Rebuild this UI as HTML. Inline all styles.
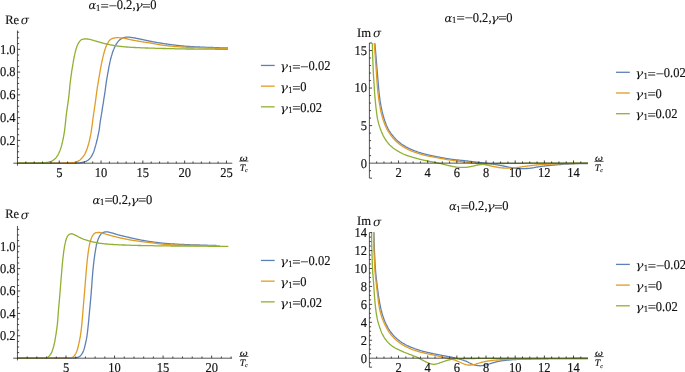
<!DOCTYPE html>
<html><head><meta charset="utf-8"><title>plots</title>
<style>
html,body{margin:0;padding:0;background:#fff;}
body{width:685px;height:372px;overflow:hidden;}
svg{display:block;}
text{text-rendering:geometricPrecision;font-family:"Liberation Serif","DejaVu Serif",serif;fill:#111;stroke:#111;stroke-width:.15px;}
.r{font-family:"Liberation Serif",serif;}
.g{font-family:"DejaVu Serif","Liberation Serif",serif;font-style:italic;stroke:none;}
.gb{stroke:#111;stroke-width:.12px;}
.ti{font-family:"Liberation Serif",serif;font-style:italic;}
.tl{font-size:12.5px;}
.cv path{fill:none;stroke-width:1.3;stroke-linejoin:round;}
.cv path.ax{stroke:#1c1c1c;stroke-width:.75;}
.cv path.tk{stroke:#1c1c1c;stroke-width:.8;}
</style></head>
<body>
<svg width="685" height="372" viewBox="0 0 685 372">
<rect width="685" height="372" fill="#fff"/>
<g class="cv">
<path d="M17.5 163.1 L18.1 163.1 L18.7 163.1 L19.3 163.1 L19.9 163.1 L20.5 163.1 L21.1 163.1 L21.7 163.1 L22.3 163.1 L22.9 163.1 L23.5 163.1 L24.1 163.1 L24.7 163.1 L25.3 163.1 L25.9 163.1 L26.5 163.1 L27.1 163.1 L27.7 163.1 L28.3 163.1 L28.9 163.1 L29.5 163.1 L30.1 163.1 L30.7 163.1 L31.3 163.1 L31.9 163.1 L32.5 163.1 L33.1 163.1 L33.7 163.1 L34.3 163.1 L34.9 163.1 L35.5 163.1 L36.1 163.1 L36.7 163.1 L37.3 163.1 L38.0 163.1 L38.6 163.1 L39.2 163.1 L39.8 163.1 L40.4 163.1 L41.0 163.1 L41.6 163.1 L42.2 163.1 L42.8 163.1 L43.4 163.1 L44.0 163.1 L44.6 163.1 L45.2 163.1 L45.8 163.1 L46.4 163.1 L47.0 163.1 L47.6 163.1 L48.2 163.1 L48.8 163.1 L49.4 163.1 L50.0 163.1 L50.6 163.1 L51.2 163.1 L51.8 163.1 L52.4 163.1 L53.0 163.1 L53.6 163.1 L54.2 163.1 L54.8 163.1 L55.4 163.1 L56.0 163.1 L56.6 163.1 L57.2 163.1 L57.8 163.1 L58.4 163.1 L59.0 163.1 L59.6 163.1 L60.2 163.1 L60.8 163.1 L61.4 163.1 L62.0 163.1 L62.6 163.1 L63.2 163.1 L63.8 163.1 L64.4 163.1 L65.0 163.1 L65.6 163.1 L66.2 163.1 L66.8 163.1 L67.4 163.1 L68.0 163.1 L68.6 163.1 L69.2 163.1 L69.8 163.1 L70.4 163.1 L71.0 163.1 L71.6 163.1 L72.2 163.1 L72.8 163.1 L73.4 163.0 L74.0 163.0 L74.6 163.0 L75.2 163.0 L75.9 163.0 L76.5 163.0 L77.1 162.9 L77.6 162.9 L78.2 162.9 L78.8 162.9 L79.4 162.8 L80.0 162.8 L80.6 162.7 L81.2 162.6 L81.8 162.5 L82.4 162.3 L83.0 162.2 L83.6 162.1 L84.2 161.9 L84.8 161.7 L85.3 161.5 L85.9 161.3 L86.5 161.1 L87.0 160.8 L87.5 160.5 L88.0 160.2 L88.5 159.8 L88.9 159.4 L89.4 159.0 L89.8 158.5 L90.2 158.1 L90.6 157.6 L90.9 157.1 L91.3 156.7 L91.6 156.2 L91.9 155.6 L92.2 155.1 L92.4 154.6 L92.7 154.0 L93.0 153.4 L93.2 152.9 L93.4 152.3 L93.7 151.8 L93.9 151.2 L94.1 150.7 L94.3 150.1 L94.4 149.5 L94.6 148.9 L94.8 148.4 L95.0 147.8 L95.1 147.2 L95.3 146.6 L95.5 146.0 L95.6 145.5 L95.8 144.9 L95.9 144.3 L96.1 143.7 L96.3 143.1 L96.4 142.6 L96.6 142.0 L96.7 141.4 L96.9 140.8 L97.0 140.2 L97.1 139.6 L97.3 139.0 L97.4 138.5 L97.6 137.9 L97.7 137.3 L97.8 136.7 L97.9 136.1 L98.1 135.5 L98.2 134.9 L98.3 134.3 L98.4 133.8 L98.5 133.2 L98.7 132.6 L98.8 132.0 L98.9 131.4 L99.0 130.8 L99.1 130.2 L99.2 129.6 L99.3 129.0 L99.4 128.4 L99.5 127.8 L99.5 127.2 L99.6 126.6 L99.7 126.0 L99.8 125.4 L99.8 124.8 L99.9 124.3 L100.0 123.7 L100.1 123.1 L100.1 122.5 L100.2 121.9 L100.3 121.3 L100.4 120.7 L100.5 120.1 L100.6 119.5 L100.7 118.9 L100.8 118.3 L100.9 117.7 L101.0 117.1 L101.1 116.5 L101.2 115.9 L101.3 115.3 L101.4 114.7 L101.5 114.2 L101.6 113.6 L101.7 113.0 L101.8 112.4 L101.9 111.8 L102.0 111.2 L102.1 110.6 L102.2 110.0 L102.2 109.4 L102.3 108.8 L102.4 108.2 L102.5 107.6 L102.6 107.0 L102.7 106.4 L102.8 105.8 L102.9 105.2 L103.0 104.6 L103.1 104.1 L103.2 103.5 L103.3 102.9 L103.4 102.3 L103.5 101.7 L103.6 101.1 L103.6 100.5 L103.7 99.9 L103.8 99.3 L103.9 98.7 L104.0 98.1 L104.1 97.5 L104.2 96.9 L104.3 96.3 L104.4 95.7 L104.5 95.1 L104.6 94.5 L104.7 94.0 L104.8 93.4 L104.9 92.8 L104.9 92.2 L105.0 91.6 L105.1 91.0 L105.2 90.4 L105.3 89.8 L105.4 89.2 L105.4 88.6 L105.5 88.0 L105.6 87.4 L105.7 86.8 L105.7 86.2 L105.8 85.6 L105.9 85.0 L106.0 84.4 L106.1 83.8 L106.1 83.2 L106.2 82.6 L106.3 82.0 L106.4 81.4 L106.5 80.8 L106.6 80.3 L106.7 79.7 L106.8 79.1 L106.9 78.5 L107.0 77.9 L107.1 77.3 L107.2 76.7 L107.3 76.1 L107.4 75.5 L107.5 74.9 L107.6 74.3 L107.7 73.7 L107.8 73.1 L107.9 72.5 L108.1 72.0 L108.2 71.4 L108.3 70.8 L108.4 70.2 L108.5 69.6 L108.6 69.0 L108.7 68.4 L108.8 67.8 L108.9 67.2 L109.0 66.6 L109.1 66.0 L109.2 65.4 L109.4 64.9 L109.5 64.3 L109.6 63.7 L109.7 63.1 L109.8 62.5 L110.0 61.9 L110.1 61.3 L110.2 60.7 L110.4 60.2 L110.5 59.6 L110.7 59.0 L110.8 58.4 L111.0 57.8 L111.1 57.2 L111.3 56.7 L111.4 56.1 L111.6 55.5 L111.8 54.9 L112.0 54.4 L112.1 53.8 L112.3 53.2 L112.5 52.6 L112.7 52.1 L112.9 51.5 L113.1 50.9 L113.3 50.4 L113.6 49.8 L113.8 49.2 L114.0 48.7 L114.2 48.1 L114.5 47.6 L114.7 47.0 L115.0 46.5 L115.3 46.0 L115.5 45.4 L115.8 44.9 L116.1 44.3 L116.4 43.8 L116.7 43.3 L117.1 42.8 L117.4 42.3 L117.8 41.9 L118.2 41.4 L118.6 40.9 L119.0 40.5 L119.4 40.1 L119.9 39.7 L120.4 39.4 L120.9 39.0 L121.4 38.6 L121.9 38.3 L122.5 38.1 L123.0 37.9 L123.6 37.7 L124.1 37.6 L124.7 37.4 L125.3 37.3 L125.9 37.2 L126.5 37.2 L127.1 37.1 L127.7 37.1 L128.3 37.1 L128.9 37.2 L129.5 37.2 L130.1 37.3 L130.7 37.4 L131.3 37.5 L131.9 37.6 L132.5 37.7 L133.1 37.7 L133.7 37.8 L134.3 37.9 L134.9 38.0 L135.5 38.1 L136.1 38.3 L136.7 38.4 L137.3 38.5 L137.9 38.6 L138.4 38.7 L139.0 38.9 L139.6 39.0 L140.2 39.1 L140.8 39.2 L141.4 39.4 L142.0 39.5 L142.6 39.6 L143.2 39.7 L143.7 39.8 L144.3 40.0 L144.9 40.1 L145.5 40.2 L146.1 40.4 L146.7 40.5 L147.3 40.6 L147.9 40.7 L148.4 40.9 L149.0 41.0 L149.6 41.1 L150.2 41.2 L150.8 41.4 L151.4 41.5 L152.0 41.6 L152.6 41.7 L153.2 41.8 L153.8 41.9 L154.3 42.0 L154.9 42.1 L155.5 42.2 L156.1 42.3 L156.7 42.5 L157.3 42.6 L157.9 42.7 L158.5 42.8 L159.1 42.9 L159.7 42.9 L160.3 43.0 L160.9 43.1 L161.5 43.2 L162.1 43.3 L162.7 43.4 L163.2 43.5 L163.8 43.6 L164.4 43.7 L165.0 43.8 L165.6 43.9 L166.2 44.0 L166.8 44.0 L167.4 44.1 L168.0 44.2 L168.6 44.3 L169.2 44.4 L169.8 44.5 L170.4 44.6 L171.0 44.6 L171.6 44.7 L172.2 44.8 L172.8 44.9 L173.4 44.9 L174.0 45.0 L174.6 45.1 L175.2 45.2 L175.8 45.2 L176.4 45.3 L177.0 45.4 L177.6 45.4 L178.2 45.5 L178.8 45.6 L179.3 45.6 L179.9 45.7 L180.5 45.7 L181.1 45.8 L181.7 45.9 L182.3 45.9 L182.9 46.0 L183.5 46.0 L184.1 46.1 L184.7 46.1 L185.3 46.2 L185.9 46.2 L186.5 46.3 L187.1 46.3 L187.7 46.4 L188.3 46.4 L188.9 46.5 L189.5 46.5 L190.1 46.5 L190.7 46.6 L191.3 46.6 L191.9 46.6 L192.5 46.7 L193.1 46.7 L193.7 46.7 L194.3 46.8 L194.9 46.8 L195.5 46.8 L196.1 46.9 L196.7 46.9 L197.3 46.9 L197.9 46.9 L198.5 47.0 L199.1 47.0 L199.7 47.0 L200.3 47.1 L200.9 47.1 L201.5 47.1 L202.2 47.1 L202.8 47.1 L203.4 47.2 L204.0 47.2 L204.6 47.2 L205.2 47.2 L205.8 47.3 L206.4 47.3 L207.0 47.3 L207.6 47.3 L208.2 47.4 L208.8 47.4 L209.4 47.4 L210.0 47.4 L210.6 47.4 L211.2 47.5 L211.8 47.5 L212.4 47.5 L213.0 47.5 L213.6 47.6 L214.2 47.6 L214.8 47.6 L215.4 47.6 L216.0 47.6 L216.6 47.7 L217.2 47.7 L217.8 47.7 L218.4 47.7 L219.0 47.7 L219.6 47.8 L220.2 47.8 L220.8 47.8 L221.4 47.8 L222.0 47.8 L222.6 47.9 L223.2 47.9 L223.8 47.9 L224.4 47.9 L225.0 47.9 L225.6 47.9 L226.2 48.0 L226.8 48.0 L227.4 48.0 L228.0 48.0" stroke="#5e81b5"/>
<path d="M17.5 163.1 L18.1 163.1 L18.7 163.1 L19.3 163.1 L19.9 163.1 L20.5 163.1 L21.1 163.1 L21.7 163.1 L22.3 163.1 L22.9 163.1 L23.5 163.1 L24.1 163.1 L24.7 163.1 L25.3 163.1 L25.9 163.1 L26.5 163.1 L27.1 163.1 L27.7 163.1 L28.3 163.1 L28.9 163.1 L29.5 163.1 L30.1 163.1 L30.7 163.1 L31.3 163.1 L31.9 163.1 L32.5 163.1 L33.1 163.1 L33.7 163.1 L34.4 163.1 L35.0 163.1 L35.6 163.1 L36.2 163.1 L36.8 163.1 L37.4 163.1 L38.0 163.1 L38.6 163.1 L39.2 163.1 L39.8 163.1 L40.4 163.1 L41.0 163.1 L41.6 163.1 L42.2 163.1 L42.8 163.1 L43.4 163.1 L44.0 163.1 L44.6 163.1 L45.2 163.1 L45.8 163.1 L46.4 163.1 L47.0 163.1 L47.6 163.1 L48.2 163.1 L48.8 163.1 L49.4 163.1 L50.0 163.1 L50.6 163.1 L51.2 163.1 L51.8 163.1 L52.4 163.1 L53.0 163.1 L53.6 163.1 L54.2 163.1 L54.8 163.1 L55.4 163.1 L56.0 163.1 L56.6 163.1 L57.2 163.1 L57.8 163.1 L58.4 163.1 L59.0 163.1 L59.6 163.1 L60.2 163.1 L60.8 163.1 L61.4 163.1 L62.0 163.1 L62.6 163.1 L63.2 163.1 L63.8 163.1 L64.4 163.1 L65.0 163.0 L65.6 163.0 L66.2 163.0 L66.8 163.0 L67.5 163.0 L68.1 163.0 L68.7 162.9 L69.3 162.9 L69.9 162.9 L70.5 162.9 L71.1 162.8 L71.7 162.7 L72.3 162.7 L72.9 162.6 L73.5 162.5 L74.0 162.4 L74.6 162.3 L75.2 162.2 L75.8 162.0 L76.4 161.9 L77.0 161.6 L77.5 161.4 L78.1 161.2 L78.6 160.9 L79.1 160.6 L79.6 160.3 L80.1 159.9 L80.5 159.5 L81.0 159.0 L81.4 158.6 L81.8 158.2 L82.2 157.7 L82.6 157.3 L83.0 156.8 L83.4 156.3 L83.7 155.8 L84.0 155.3 L84.4 154.8 L84.7 154.3 L85.0 153.8 L85.2 153.2 L85.5 152.7 L85.7 152.2 L86.0 151.6 L86.2 151.0 L86.4 150.5 L86.7 149.9 L86.9 149.3 L87.1 148.8 L87.3 148.2 L87.5 147.6 L87.6 147.1 L87.8 146.5 L88.0 145.9 L88.2 145.3 L88.3 144.8 L88.5 144.2 L88.7 143.6 L88.8 143.0 L89.0 142.4 L89.1 141.9 L89.3 141.3 L89.4 140.7 L89.6 140.1 L89.7 139.5 L89.8 138.9 L90.0 138.3 L90.1 137.8 L90.2 137.2 L90.3 136.6 L90.4 136.0 L90.5 135.4 L90.6 134.8 L90.8 134.2 L90.9 133.6 L91.0 133.0 L91.1 132.4 L91.2 131.8 L91.3 131.2 L91.3 130.6 L91.4 130.0 L91.5 129.5 L91.6 128.9 L91.7 128.3 L91.8 127.7 L91.9 127.1 L92.0 126.5 L92.0 125.9 L92.1 125.3 L92.2 124.7 L92.3 124.1 L92.4 123.5 L92.4 122.9 L92.5 122.3 L92.6 121.7 L92.7 121.1 L92.7 120.5 L92.8 119.9 L92.9 119.3 L93.0 118.7 L93.0 118.1 L93.1 117.5 L93.2 116.9 L93.3 116.3 L93.4 115.7 L93.5 115.1 L93.5 114.5 L93.6 113.9 L93.7 113.4 L93.8 112.8 L93.9 112.2 L94.0 111.6 L94.1 111.0 L94.2 110.4 L94.2 109.8 L94.3 109.2 L94.4 108.6 L94.5 108.0 L94.6 107.4 L94.7 106.8 L94.8 106.2 L94.9 105.6 L95.0 105.0 L95.0 104.4 L95.1 103.8 L95.2 103.2 L95.3 102.6 L95.4 102.0 L95.5 101.4 L95.5 100.8 L95.6 100.3 L95.7 99.7 L95.8 99.1 L95.9 98.5 L95.9 97.9 L96.0 97.3 L96.1 96.7 L96.2 96.1 L96.2 95.5 L96.3 94.9 L96.4 94.3 L96.5 93.7 L96.6 93.1 L96.6 92.5 L96.7 91.9 L96.8 91.3 L96.9 90.7 L97.0 90.1 L97.1 89.5 L97.2 88.9 L97.2 88.3 L97.3 87.7 L97.4 87.1 L97.5 86.5 L97.6 85.9 L97.7 85.4 L97.8 84.8 L97.9 84.2 L98.0 83.6 L98.1 83.0 L98.2 82.4 L98.3 81.8 L98.4 81.2 L98.5 80.6 L98.6 80.0 L98.7 79.4 L98.8 78.8 L98.9 78.2 L99.0 77.6 L99.1 77.0 L99.2 76.4 L99.3 75.9 L99.4 75.3 L99.5 74.7 L99.6 74.1 L99.7 73.5 L99.8 72.9 L99.9 72.3 L100.0 71.7 L100.1 71.1 L100.2 70.5 L100.3 69.9 L100.4 69.3 L100.5 68.7 L100.6 68.2 L100.8 67.6 L100.9 67.0 L101.0 66.4 L101.1 65.8 L101.2 65.2 L101.3 64.6 L101.4 64.0 L101.6 63.4 L101.7 62.8 L101.8 62.2 L101.9 61.7 L102.0 61.1 L102.2 60.5 L102.3 59.9 L102.4 59.3 L102.6 58.7 L102.7 58.1 L102.8 57.5 L103.0 57.0 L103.1 56.4 L103.2 55.8 L103.4 55.2 L103.5 54.6 L103.7 54.0 L103.9 53.5 L104.0 52.9 L104.2 52.3 L104.3 51.7 L104.5 51.1 L104.7 50.6 L104.9 50.0 L105.0 49.4 L105.2 48.8 L105.4 48.3 L105.6 47.7 L105.8 47.1 L106.1 46.6 L106.3 46.0 L106.5 45.5 L106.8 44.9 L107.0 44.4 L107.3 43.8 L107.6 43.3 L107.9 42.8 L108.2 42.3 L108.5 41.7 L108.9 41.2 L109.3 40.7 L109.7 40.3 L110.1 39.9 L110.5 39.5 L111.0 39.2 L111.6 38.9 L112.1 38.6 L112.7 38.4 L113.3 38.2 L113.8 38.1 L114.4 38.0 L115.0 37.9 L115.6 37.8 L116.2 37.7 L116.8 37.7 L117.4 37.7 L118.0 37.7 L118.6 37.7 L119.2 37.8 L119.8 37.8 L120.4 37.8 L121.0 37.9 L121.6 37.9 L122.2 38.0 L122.8 38.1 L123.4 38.1 L124.0 38.2 L124.6 38.3 L125.2 38.5 L125.8 38.6 L126.4 38.7 L127.0 38.9 L127.6 39.0 L128.1 39.1 L128.7 39.3 L129.3 39.4 L129.9 39.6 L130.5 39.7 L131.1 39.8 L131.7 39.9 L132.3 40.0 L132.9 40.2 L133.4 40.3 L134.0 40.4 L134.6 40.5 L135.2 40.6 L135.8 40.7 L136.4 40.8 L137.0 40.9 L137.6 41.0 L138.2 41.1 L138.8 41.2 L139.4 41.3 L140.0 41.4 L140.6 41.5 L141.2 41.6 L141.7 41.7 L142.3 41.8 L142.9 41.9 L143.5 42.0 L144.1 42.1 L144.7 42.2 L145.3 42.3 L145.9 42.4 L146.5 42.5 L147.1 42.5 L147.7 42.6 L148.3 42.7 L148.9 42.8 L149.5 42.9 L150.1 43.0 L150.7 43.1 L151.3 43.2 L151.9 43.3 L152.5 43.4 L153.0 43.5 L153.6 43.6 L154.2 43.7 L154.8 43.8 L155.4 43.9 L156.0 44.0 L156.6 44.2 L157.2 44.3 L157.8 44.4 L158.4 44.5 L159.0 44.6 L159.6 44.7 L160.1 44.8 L160.7 44.9 L161.3 45.0 L161.9 45.1 L162.5 45.2 L163.1 45.3 L163.7 45.4 L164.3 45.4 L164.9 45.5 L165.5 45.6 L166.1 45.6 L166.7 45.7 L167.3 45.8 L167.9 45.8 L168.5 45.9 L169.1 46.0 L169.7 46.0 L170.3 46.1 L170.9 46.1 L171.5 46.2 L172.1 46.2 L172.7 46.3 L173.3 46.4 L173.9 46.4 L174.5 46.5 L175.1 46.5 L175.7 46.5 L176.3 46.6 L176.9 46.6 L177.5 46.7 L178.1 46.7 L178.7 46.8 L179.3 46.8 L179.9 46.9 L180.5 46.9 L181.1 46.9 L181.7 47.0 L182.3 47.0 L182.9 47.0 L183.5 47.1 L184.1 47.1 L184.7 47.2 L185.3 47.2 L185.9 47.2 L186.5 47.3 L187.1 47.3 L187.7 47.3 L188.3 47.3 L188.9 47.4 L189.5 47.4 L190.1 47.4 L190.7 47.5 L191.3 47.5 L191.9 47.5 L192.5 47.5 L193.1 47.6 L193.7 47.6 L194.3 47.6 L194.9 47.6 L195.5 47.7 L196.1 47.7 L196.7 47.7 L197.3 47.7 L197.9 47.7 L198.5 47.8 L199.1 47.8 L199.7 47.8 L200.3 47.8 L200.9 47.8 L201.5 47.9 L202.1 47.9 L202.7 47.9 L203.3 47.9 L203.9 47.9 L204.5 48.0 L205.1 48.0 L205.7 48.0 L206.3 48.0 L206.9 48.0 L207.5 48.1 L208.1 48.1 L208.7 48.1 L209.3 48.1 L210.0 48.1 L210.6 48.1 L211.2 48.1 L211.8 48.2 L212.4 48.2 L213.0 48.2 L213.6 48.2 L214.2 48.2 L214.8 48.2 L215.4 48.3 L216.0 48.3 L216.6 48.3 L217.2 48.3 L217.8 48.3 L218.4 48.3 L219.0 48.3 L219.6 48.3 L220.2 48.4 L220.8 48.4 L221.4 48.4 L222.0 48.4 L222.6 48.4 L223.2 48.4 L223.8 48.4 L224.4 48.4 L225.0 48.5 L225.6 48.5 L226.2 48.5 L226.8 48.5 L227.4 48.5 L228.0 48.5" stroke="#e19c24"/>
<path d="M17.5 163.1 L18.1 163.1 L18.7 163.1 L19.3 163.1 L19.9 163.1 L20.5 163.1 L21.1 163.1 L21.7 163.1 L22.3 163.1 L22.9 163.1 L23.5 163.1 L24.1 163.1 L24.7 163.1 L25.3 163.1 L25.9 163.1 L26.5 163.1 L27.1 163.1 L27.7 163.1 L28.3 163.1 L28.9 163.1 L29.5 163.1 L30.1 163.1 L30.7 163.1 L31.3 163.1 L32.0 163.1 L32.6 163.1 L33.2 163.1 L33.8 163.1 L34.4 163.1 L35.0 163.1 L35.6 163.1 L36.2 163.1 L36.8 163.1 L37.4 163.1 L38.0 163.1 L38.6 163.0 L39.2 163.0 L39.8 163.0 L40.4 163.0 L41.0 162.9 L41.6 162.9 L42.2 162.9 L42.8 162.9 L43.4 162.8 L44.0 162.8 L44.6 162.7 L45.2 162.6 L45.8 162.6 L46.4 162.5 L47.0 162.4 L47.6 162.3 L48.2 162.2 L48.8 162.1 L49.4 161.9 L49.9 161.7 L50.5 161.5 L51.1 161.3 L51.6 161.1 L52.1 160.9 L52.7 160.6 L53.2 160.2 L53.7 159.9 L54.2 159.5 L54.7 159.1 L55.1 158.7 L55.5 158.3 L55.9 157.9 L56.3 157.4 L56.6 156.9 L57.0 156.4 L57.3 155.9 L57.7 155.4 L58.0 154.8 L58.2 154.3 L58.5 153.8 L58.8 153.3 L59.0 152.7 L59.3 152.2 L59.5 151.6 L59.8 151.0 L60.0 150.5 L60.2 149.9 L60.4 149.3 L60.6 148.8 L60.8 148.2 L61.0 147.6 L61.1 147.0 L61.3 146.5 L61.5 145.9 L61.6 145.3 L61.8 144.7 L61.9 144.1 L62.1 143.6 L62.2 143.0 L62.4 142.4 L62.5 141.8 L62.6 141.2 L62.8 140.6 L62.9 140.0 L63.0 139.4 L63.1 138.9 L63.3 138.3 L63.4 137.7 L63.5 137.1 L63.6 136.5 L63.7 135.9 L63.8 135.3 L63.9 134.7 L64.0 134.1 L64.1 133.5 L64.2 132.9 L64.3 132.3 L64.4 131.7 L64.5 131.1 L64.6 130.5 L64.6 130.0 L64.7 129.4 L64.8 128.8 L64.9 128.2 L64.9 127.6 L65.0 127.0 L65.1 126.4 L65.1 125.8 L65.2 125.2 L65.3 124.6 L65.3 124.0 L65.4 123.4 L65.5 122.8 L65.5 122.2 L65.6 121.6 L65.6 121.0 L65.7 120.4 L65.8 119.8 L65.8 119.2 L65.9 118.6 L65.9 118.0 L66.0 117.4 L66.1 116.8 L66.1 116.2 L66.2 115.6 L66.3 115.0 L66.4 114.4 L66.4 113.8 L66.5 113.2 L66.6 112.6 L66.7 112.0 L66.7 111.4 L66.8 110.8 L66.9 110.2 L67.0 109.6 L67.1 109.0 L67.2 108.4 L67.3 107.8 L67.3 107.2 L67.4 106.6 L67.5 106.0 L67.6 105.4 L67.7 104.8 L67.8 104.3 L67.9 103.7 L67.9 103.1 L68.0 102.5 L68.1 101.9 L68.2 101.3 L68.3 100.7 L68.4 100.1 L68.4 99.5 L68.5 98.9 L68.6 98.3 L68.7 97.7 L68.8 97.1 L68.8 96.5 L68.9 95.9 L69.0 95.3 L69.0 94.7 L69.1 94.1 L69.2 93.5 L69.2 92.9 L69.3 92.3 L69.3 91.7 L69.4 91.1 L69.4 90.5 L69.5 89.9 L69.6 89.3 L69.6 88.7 L69.7 88.1 L69.7 87.5 L69.8 86.9 L69.8 86.3 L69.9 85.7 L69.9 85.1 L70.0 84.5 L70.1 83.9 L70.1 83.3 L70.2 82.7 L70.3 82.1 L70.4 81.5 L70.4 80.9 L70.5 80.3 L70.6 79.7 L70.7 79.1 L70.7 78.5 L70.8 77.9 L70.9 77.3 L71.0 76.7 L71.1 76.1 L71.1 75.6 L71.2 75.0 L71.3 74.4 L71.4 73.8 L71.5 73.2 L71.6 72.6 L71.6 72.0 L71.7 71.4 L71.8 70.8 L71.9 70.2 L72.0 69.6 L72.1 69.0 L72.2 68.4 L72.3 67.8 L72.4 67.2 L72.5 66.6 L72.6 66.0 L72.7 65.4 L72.8 64.8 L72.9 64.2 L73.0 63.7 L73.1 63.1 L73.2 62.5 L73.3 61.9 L73.4 61.3 L73.5 60.7 L73.6 60.1 L73.7 59.5 L73.8 58.9 L73.9 58.3 L74.0 57.7 L74.1 57.1 L74.3 56.5 L74.4 55.9 L74.5 55.4 L74.6 54.8 L74.8 54.2 L74.9 53.6 L75.0 53.0 L75.2 52.4 L75.3 51.8 L75.5 51.3 L75.6 50.7 L75.8 50.1 L75.9 49.5 L76.1 48.9 L76.3 48.3 L76.5 47.8 L76.7 47.2 L76.9 46.6 L77.1 46.1 L77.3 45.5 L77.6 45.0 L77.8 44.4 L78.1 43.8 L78.4 43.3 L78.7 42.8 L79.0 42.3 L79.3 41.8 L79.7 41.3 L80.1 40.9 L80.6 40.4 L81.0 40.0 L81.5 39.7 L82.1 39.5 L82.6 39.3 L83.2 39.2 L83.8 39.1 L84.4 39.0 L85.0 38.9 L85.6 38.9 L86.2 38.9 L86.8 39.0 L87.4 39.0 L88.0 39.1 L88.6 39.2 L89.2 39.3 L89.8 39.4 L90.4 39.5 L91.0 39.7 L91.6 39.8 L92.1 40.0 L92.7 40.2 L93.3 40.4 L93.9 40.5 L94.4 40.7 L95.0 40.9 L95.6 41.1 L96.2 41.2 L96.8 41.4 L97.3 41.6 L97.9 41.7 L98.5 41.9 L99.1 42.1 L99.7 42.2 L100.2 42.4 L100.8 42.5 L101.4 42.7 L102.0 42.9 L102.6 43.0 L103.1 43.2 L103.7 43.3 L104.3 43.5 L104.9 43.6 L105.5 43.8 L106.1 43.9 L106.7 44.0 L107.2 44.2 L107.8 44.3 L108.4 44.4 L109.0 44.5 L109.6 44.7 L110.2 44.8 L110.8 44.9 L111.4 45.0 L112.0 45.1 L112.6 45.2 L113.1 45.4 L113.7 45.5 L114.3 45.6 L114.9 45.6 L115.5 45.7 L116.1 45.8 L116.7 45.9 L117.3 46.0 L117.9 46.1 L118.5 46.1 L119.1 46.2 L119.7 46.3 L120.3 46.4 L120.9 46.4 L121.5 46.5 L122.1 46.6 L122.7 46.7 L123.3 46.7 L123.9 46.8 L124.5 46.8 L125.1 46.9 L125.7 46.9 L126.3 47.0 L126.9 47.0 L127.5 47.1 L128.1 47.1 L128.7 47.2 L129.3 47.2 L129.9 47.2 L130.5 47.3 L131.1 47.3 L131.7 47.4 L132.3 47.4 L132.9 47.4 L133.5 47.4 L134.1 47.5 L134.7 47.5 L135.3 47.5 L135.9 47.6 L136.5 47.6 L137.1 47.6 L137.7 47.6 L138.3 47.7 L138.9 47.7 L139.5 47.7 L140.1 47.7 L140.7 47.8 L141.3 47.8 L141.9 47.8 L142.5 47.8 L143.1 47.9 L143.7 47.9 L144.3 47.9 L144.9 47.9 L145.5 48.0 L146.1 48.0 L146.7 48.0 L147.3 48.0 L147.9 48.0 L148.5 48.1 L149.1 48.1 L149.7 48.1 L150.3 48.1 L150.9 48.1 L151.5 48.2 L152.1 48.2 L152.7 48.2 L153.4 48.2 L154.0 48.2 L154.6 48.2 L155.2 48.3 L155.8 48.3 L156.4 48.3 L157.0 48.3 L157.6 48.3 L158.2 48.4 L158.8 48.4 L159.4 48.4 L160.0 48.4 L160.6 48.4 L161.2 48.4 L161.8 48.4 L162.4 48.5 L163.0 48.5 L163.6 48.5 L164.2 48.5 L164.8 48.5 L165.4 48.5 L166.0 48.6 L166.6 48.6 L167.2 48.6 L167.8 48.6 L168.4 48.6 L169.0 48.6 L169.6 48.6 L170.2 48.7 L170.8 48.7 L171.4 48.7 L172.0 48.7 L172.6 48.7 L173.2 48.7 L173.8 48.7 L174.4 48.7 L175.0 48.8 L175.6 48.8 L176.2 48.8 L176.8 48.8 L177.4 48.8 L178.0 48.8 L178.6 48.8 L179.2 48.8 L179.8 48.9 L180.4 48.9 L181.0 48.9 L181.6 48.9 L182.2 48.9 L182.8 48.9 L183.4 48.9 L184.0 48.9 L184.7 48.9 L185.3 48.9 L185.9 49.0 L186.5 49.0 L187.1 49.0 L187.7 49.0 L188.3 49.0 L188.9 49.0 L189.5 49.0 L190.1 49.0 L190.7 49.0 L191.3 49.0 L191.9 49.0 L192.5 49.0 L193.1 49.0 L193.7 49.0 L194.3 49.1 L194.9 49.1 L195.5 49.1 L196.1 49.1 L196.7 49.1 L197.3 49.1 L197.9 49.1 L198.5 49.1 L199.1 49.1 L199.7 49.1 L200.3 49.1 L200.9 49.1 L201.5 49.1 L202.1 49.1 L202.7 49.1 L203.3 49.2 L203.9 49.2 L204.5 49.2 L205.1 49.2 L205.7 49.2 L206.3 49.2 L206.9 49.2 L207.5 49.2 L208.1 49.2 L208.7 49.2 L209.3 49.2 L209.9 49.2 L210.5 49.2 L211.1 49.2 L211.7 49.2 L212.3 49.2 L212.9 49.2 L213.5 49.2 L214.2 49.2 L214.8 49.2 L215.4 49.3 L216.0 49.3 L216.6 49.3 L217.2 49.3 L217.8 49.3 L218.4 49.3 L219.0 49.3 L219.6 49.3 L220.2 49.3 L220.8 49.3 L221.4 49.3 L222.0 49.3 L222.6 49.3 L223.2 49.3 L223.8 49.3 L224.4 49.3 L225.0 49.3 L225.6 49.3 L226.2 49.3 L226.8 49.3 L227.4 49.3 L228.0 49.3" stroke="#8fb032"/>
<path class="ax" d="M13.3 163.2H232.3M17.45 165.7V30.5"/>
<path class="tk" d="M59.25 163.2v-2.7M101.05 163.2v-2.7M142.85 163.2v-2.7M184.65 163.2v-2.7M226.45 163.2v-2.7M25.81 163.2v-1.7M34.17 163.2v-1.7M42.53 163.2v-1.7M50.89 163.2v-1.7M67.61 163.2v-1.7M75.97 163.2v-1.7M84.33 163.2v-1.7M92.69 163.2v-1.7M109.41 163.2v-1.7M117.77 163.2v-1.7M126.13 163.2v-1.7M134.49 163.2v-1.7M151.21 163.2v-1.7M159.57 163.2v-1.7M167.93 163.2v-1.7M176.29 163.2v-1.7M193.01 163.2v-1.7M201.37 163.2v-1.7M209.73 163.2v-1.7M218.09 163.2v-1.7M17.45 140.42h2.7M17.45 117.64h2.7M17.45 94.86h2.7M17.45 72.08h2.7M17.45 49.3h2.7M17.45 157.5h1.7M17.45 151.81h1.7M17.45 146.11h1.7M17.45 134.72h1.7M17.45 129.03h1.7M17.45 123.33h1.7M17.45 111.94h1.7M17.45 106.25h1.7M17.45 100.55h1.7M17.45 89.16h1.7M17.45 83.47h1.7M17.45 77.77h1.7M17.45 66.38h1.7M17.45 60.69h1.7M17.45 54.99h1.7M17.45 43.6h1.7M17.45 37.91h1.7M17.45 32.22h1.7"/>
<path d="M374.9 43.2 L374.9 43.8 L375.0 44.4 L375.0 45.0 L375.1 45.6 L375.1 46.2 L375.2 46.8 L375.2 47.4 L375.3 48.0 L375.3 48.6 L375.4 49.2 L375.4 49.8 L375.5 50.4 L375.5 51.0 L375.6 51.6 L375.6 52.2 L375.7 52.8 L375.7 53.4 L375.8 54.0 L375.8 54.6 L375.9 55.2 L375.9 55.8 L376.0 56.4 L376.0 57.0 L376.1 57.6 L376.1 58.2 L376.2 58.8 L376.2 59.4 L376.3 60.0 L376.3 60.6 L376.4 61.2 L376.4 61.8 L376.5 62.4 L376.5 63.0 L376.6 63.6 L376.6 64.2 L376.7 64.8 L376.7 65.4 L376.8 66.0 L376.8 66.6 L376.9 67.2 L376.9 67.8 L377.0 68.4 L377.0 69.0 L377.1 69.6 L377.1 70.2 L377.2 70.8 L377.2 71.4 L377.3 72.0 L377.3 72.6 L377.4 73.2 L377.4 73.8 L377.5 74.4 L377.5 75.0 L377.6 75.6 L377.6 76.2 L377.7 76.8 L377.7 77.4 L377.8 78.0 L377.8 78.6 L377.9 79.2 L377.9 79.8 L378.0 80.4 L378.0 81.0 L378.1 81.6 L378.1 82.2 L378.2 82.8 L378.2 83.4 L378.3 84.0 L378.3 84.6 L378.4 85.2 L378.4 85.8 L378.5 86.4 L378.5 87.0 L378.6 87.6 L378.6 88.2 L378.7 88.8 L378.8 89.4 L378.8 90.0 L378.9 90.6 L378.9 91.2 L379.0 91.8 L379.0 92.4 L379.1 93.0 L379.2 93.6 L379.2 94.2 L379.3 94.8 L379.4 95.4 L379.4 96.0 L379.5 96.6 L379.6 97.2 L379.7 97.8 L379.8 98.4 L379.8 99.0 L379.9 99.6 L380.0 100.2 L380.1 100.8 L380.2 101.4 L380.3 101.9 L380.4 102.5 L380.5 103.1 L380.6 103.7 L380.7 104.3 L380.8 104.9 L380.9 105.5 L381.0 106.1 L381.1 106.7 L381.3 107.3 L381.4 107.9 L381.5 108.5 L381.6 109.1 L381.7 109.6 L381.9 110.2 L382.0 110.8 L382.1 111.4 L382.3 112.0 L382.4 112.6 L382.5 113.2 L382.7 113.7 L382.8 114.3 L383.0 114.9 L383.2 115.5 L383.3 116.1 L383.5 116.7 L383.7 117.2 L383.8 117.8 L384.0 118.4 L384.2 119.0 L384.4 119.5 L384.6 120.1 L384.7 120.7 L384.9 121.2 L385.1 121.8 L385.3 122.4 L385.6 123.0 L385.8 123.5 L386.0 124.1 L386.2 124.7 L386.4 125.2 L386.7 125.8 L386.9 126.3 L387.2 126.9 L387.4 127.4 L387.7 127.9 L387.9 128.5 L388.2 129.0 L388.5 129.5 L388.8 130.0 L389.1 130.6 L389.4 131.1 L389.8 131.6 L390.1 132.1 L390.4 132.6 L390.8 133.1 L391.1 133.6 L391.5 134.1 L391.9 134.6 L392.2 135.0 L392.6 135.5 L393.0 136.0 L393.3 136.4 L393.7 136.9 L394.1 137.4 L394.5 137.8 L394.9 138.3 L395.4 138.7 L395.8 139.1 L396.2 139.6 L396.6 140.0 L397.1 140.4 L397.5 140.8 L397.9 141.2 L398.4 141.6 L398.9 142.0 L399.3 142.4 L399.8 142.7 L400.3 143.1 L400.8 143.5 L401.2 143.8 L401.7 144.2 L402.2 144.5 L402.7 144.9 L403.2 145.2 L403.8 145.5 L404.3 145.8 L404.8 146.1 L405.3 146.4 L405.8 146.7 L406.3 147.0 L406.9 147.3 L407.4 147.6 L407.9 147.9 L408.5 148.1 L409.0 148.4 L409.6 148.7 L410.1 148.9 L410.7 149.2 L411.2 149.4 L411.8 149.6 L412.3 149.9 L412.9 150.1 L413.5 150.3 L414.0 150.5 L414.6 150.8 L415.1 151.0 L415.7 151.2 L416.3 151.4 L416.8 151.6 L417.4 151.8 L418.0 152.0 L418.5 152.2 L419.1 152.4 L419.7 152.6 L420.3 152.7 L420.8 152.9 L421.4 153.1 L422.0 153.3 L422.6 153.4 L423.2 153.6 L423.7 153.8 L424.3 153.9 L424.9 154.1 L425.5 154.2 L426.1 154.4 L426.6 154.5 L427.2 154.6 L427.8 154.8 L428.4 154.9 L429.0 155.1 L429.6 155.2 L430.2 155.3 L430.8 155.4 L431.3 155.6 L431.9 155.7 L432.5 155.8 L433.1 155.9 L433.7 156.1 L434.3 156.2 L434.9 156.3 L435.5 156.4 L436.1 156.5 L436.7 156.7 L437.3 156.8 L437.8 156.9 L438.4 157.0 L439.0 157.1 L439.6 157.2 L440.2 157.3 L440.8 157.5 L441.4 157.6 L442.0 157.7 L442.6 157.8 L443.2 157.9 L443.8 158.0 L444.4 158.1 L444.9 158.2 L445.5 158.3 L446.1 158.4 L446.7 158.6 L447.3 158.7 L447.9 158.7 L448.5 158.8 L449.1 158.9 L449.7 159.0 L450.3 159.1 L450.9 159.2 L451.5 159.3 L452.1 159.4 L452.7 159.4 L453.3 159.5 L453.9 159.6 L454.5 159.7 L455.1 159.7 L455.7 159.8 L456.3 159.9 L456.9 159.9 L457.5 160.0 L458.1 160.0 L458.7 160.1 L459.3 160.2 L459.9 160.2 L460.5 160.3 L461.1 160.3 L461.7 160.4 L462.3 160.4 L462.9 160.5 L463.5 160.6 L464.1 160.6 L464.7 160.7 L465.3 160.8 L465.8 160.8 L466.4 160.9 L467.0 161.0 L467.6 161.0 L468.2 161.1 L468.8 161.2 L469.4 161.3 L470.0 161.3 L470.6 161.4 L471.2 161.5 L471.8 161.6 L472.4 161.7 L473.0 161.7 L473.6 161.8 L474.2 161.9 L474.8 162.0 L475.4 162.0 L476.0 162.1 L476.6 162.2 L477.2 162.2 L477.8 162.3 L478.4 162.4 L479.0 162.4 L479.6 162.5 L480.2 162.6 L480.8 162.6 L481.4 162.7 L482.0 162.8 L482.6 162.9 L483.2 162.9 L483.8 163.0 L484.4 163.1 L485.0 163.1 L485.6 163.2 L486.2 163.3 L486.8 163.4 L487.4 163.4 L488.0 163.5 L488.6 163.6 L489.2 163.7 L489.8 163.8 L490.4 163.8 L490.9 163.9 L491.5 164.0 L492.1 164.1 L492.7 164.2 L493.3 164.3 L493.9 164.3 L494.5 164.4 L495.1 164.5 L495.7 164.6 L496.3 164.7 L496.9 164.8 L497.5 164.9 L498.1 165.0 L498.7 165.1 L499.3 165.2 L499.9 165.3 L500.5 165.5 L501.0 165.6 L501.6 165.7 L502.2 165.8 L502.8 165.9 L503.4 166.0 L504.0 166.1 L504.6 166.3 L505.2 166.4 L505.8 166.5 L506.4 166.6 L506.9 166.8 L507.5 166.9 L508.1 167.0 L508.7 167.2 L509.3 167.3 L509.9 167.4 L510.5 167.5 L511.1 167.6 L511.7 167.7 L512.3 167.8 L512.9 167.9 L513.5 168.0 L514.1 168.1 L514.6 168.2 L515.2 168.3 L515.8 168.3 L516.4 168.4 L517.0 168.4 L517.6 168.5 L518.2 168.5 L518.8 168.5 L519.4 168.5 L520.0 168.5 L520.6 168.6 L521.3 168.6 L521.9 168.6 L522.5 168.6 L523.1 168.6 L523.7 168.6 L524.3 168.6 L524.9 168.6 L525.5 168.6 L526.1 168.5 L526.7 168.5 L527.3 168.5 L527.9 168.4 L528.5 168.4 L529.1 168.3 L529.7 168.3 L530.3 168.2 L530.9 168.2 L531.5 168.1 L532.1 168.0 L532.7 167.9 L533.2 167.8 L533.8 167.7 L534.4 167.5 L535.0 167.4 L535.6 167.3 L536.2 167.2 L536.8 167.1 L537.4 167.0 L538.0 166.9 L538.6 166.8 L539.2 166.7 L539.8 166.6 L540.4 166.5 L541.0 166.5 L541.6 166.4 L542.2 166.3 L542.8 166.2 L543.4 166.1 L544.0 166.1 L544.5 166.0 L545.1 165.9 L545.7 165.9 L546.3 165.8 L546.9 165.7 L547.5 165.7 L548.1 165.6 L548.7 165.5 L549.3 165.5 L549.9 165.4 L550.5 165.4 L551.1 165.3 L551.7 165.2 L552.3 165.2 L552.9 165.1 L553.5 165.1 L554.1 165.0 L554.7 165.0 L555.3 164.9 L555.9 164.9 L556.5 164.8 L557.1 164.8 L557.7 164.7 L558.3 164.7 L558.9 164.6 L559.5 164.6 L560.1 164.5 L560.7 164.5 L561.3 164.4 L561.9 164.4 L562.5 164.3 L563.1 164.3 L563.7 164.2 L564.3 164.2 L564.9 164.2 L565.5 164.1 L566.1 164.1 L566.7 164.1 L567.3 164.0 L567.9 164.0 L568.5 164.0 L569.1 163.9 L569.7 163.9 L570.3 163.9 L570.9 163.9 L571.5 163.8 L572.1 163.8 L572.8 163.8 L573.4 163.8 L574.0 163.8 L574.6 163.7 L575.2 163.7 L575.8 163.7 L576.4 163.7 L577.0 163.7 L577.6 163.7 L578.2 163.6 L578.8 163.6 L579.4 163.6 L580.0 163.6 L580.6 163.6 L581.2 163.6 L581.8 163.6 L582.4 163.6 L583.0 163.6 L583.6 163.5 L584.2 163.5 L584.8 163.5 L585.4 163.5 L586.0 163.5 L586.6 163.5 L587.2 163.5 L587.8 163.5" stroke="#5e81b5"/>
<path d="M374.3 43.2 L374.3 43.8 L374.4 44.4 L374.4 45.0 L374.5 45.6 L374.5 46.2 L374.6 46.8 L374.6 47.4 L374.6 48.0 L374.7 48.6 L374.7 49.2 L374.8 49.8 L374.8 50.4 L374.9 51.0 L374.9 51.6 L374.9 52.2 L375.0 52.8 L375.0 53.4 L375.1 54.0 L375.1 54.6 L375.2 55.2 L375.2 55.8 L375.2 56.4 L375.3 57.0 L375.3 57.6 L375.4 58.2 L375.4 58.8 L375.5 59.4 L375.5 60.0 L375.5 60.6 L375.6 61.2 L375.6 61.8 L375.7 62.4 L375.7 63.0 L375.8 63.6 L375.8 64.2 L375.8 64.8 L375.9 65.4 L375.9 66.0 L376.0 66.6 L376.0 67.2 L376.0 67.8 L376.1 68.4 L376.1 69.0 L376.2 69.6 L376.2 70.2 L376.3 70.8 L376.3 71.4 L376.3 72.0 L376.4 72.6 L376.4 73.2 L376.5 73.8 L376.5 74.4 L376.5 75.0 L376.6 75.6 L376.6 76.2 L376.6 76.8 L376.7 77.4 L376.7 78.0 L376.8 78.6 L376.8 79.2 L376.8 79.8 L376.9 80.4 L376.9 81.0 L377.0 81.6 L377.0 82.2 L377.1 82.8 L377.1 83.4 L377.2 84.0 L377.2 84.6 L377.3 85.2 L377.3 85.8 L377.4 86.4 L377.4 87.0 L377.5 87.6 L377.5 88.2 L377.6 88.8 L377.6 89.4 L377.7 90.0 L377.8 90.6 L377.8 91.2 L377.9 91.8 L377.9 92.4 L378.0 93.0 L378.1 93.6 L378.1 94.2 L378.2 94.8 L378.3 95.4 L378.4 96.0 L378.4 96.6 L378.5 97.2 L378.6 97.8 L378.7 98.4 L378.7 99.0 L378.8 99.6 L378.9 100.2 L379.0 100.8 L379.1 101.4 L379.2 102.0 L379.3 102.6 L379.4 103.2 L379.5 103.8 L379.6 104.4 L379.7 104.9 L379.8 105.5 L379.9 106.1 L380.0 106.7 L380.1 107.3 L380.2 107.9 L380.3 108.5 L380.4 109.1 L380.5 109.7 L380.7 110.3 L380.8 110.9 L380.9 111.4 L381.0 112.0 L381.2 112.6 L381.3 113.2 L381.5 113.8 L381.6 114.4 L381.7 115.0 L381.9 115.6 L382.1 116.1 L382.2 116.7 L382.4 117.3 L382.6 117.9 L382.7 118.4 L382.9 119.0 L383.1 119.6 L383.3 120.2 L383.5 120.7 L383.7 121.3 L383.9 121.9 L384.1 122.4 L384.3 123.0 L384.5 123.6 L384.7 124.1 L384.9 124.7 L385.2 125.3 L385.4 125.8 L385.6 126.4 L385.9 126.9 L386.1 127.5 L386.4 128.0 L386.7 128.5 L386.9 129.1 L387.2 129.6 L387.5 130.1 L387.8 130.6 L388.1 131.2 L388.4 131.7 L388.8 132.2 L389.1 132.7 L389.4 133.2 L389.8 133.7 L390.1 134.2 L390.5 134.7 L390.8 135.2 L391.2 135.6 L391.5 136.1 L391.9 136.6 L392.3 137.1 L392.7 137.5 L393.0 138.0 L393.4 138.5 L393.8 138.9 L394.2 139.4 L394.6 139.8 L395.1 140.3 L395.5 140.7 L395.9 141.1 L396.3 141.5 L396.8 141.9 L397.2 142.3 L397.7 142.7 L398.1 143.1 L398.6 143.5 L399.1 143.9 L399.6 144.2 L400.0 144.6 L400.5 145.0 L401.0 145.3 L401.5 145.7 L402.0 146.0 L402.5 146.3 L403.0 146.6 L403.6 147.0 L404.1 147.3 L404.6 147.6 L405.1 147.9 L405.6 148.2 L406.2 148.4 L406.7 148.7 L407.2 149.0 L407.8 149.3 L408.3 149.6 L408.9 149.8 L409.4 150.1 L410.0 150.3 L410.5 150.6 L411.1 150.8 L411.6 151.0 L412.2 151.3 L412.7 151.5 L413.3 151.7 L413.8 151.9 L414.4 152.1 L415.0 152.3 L415.5 152.5 L416.1 152.7 L416.7 152.9 L417.2 153.1 L417.8 153.3 L418.4 153.5 L419.0 153.7 L419.6 153.9 L420.1 154.0 L420.7 154.2 L421.3 154.4 L421.9 154.5 L422.4 154.7 L423.0 154.8 L423.6 155.0 L424.2 155.1 L424.8 155.3 L425.4 155.4 L425.9 155.5 L426.5 155.7 L427.1 155.8 L427.7 155.9 L428.3 156.0 L428.9 156.1 L429.5 156.3 L430.1 156.4 L430.7 156.5 L431.3 156.6 L431.9 156.7 L432.4 156.8 L433.0 156.9 L433.6 157.1 L434.2 157.2 L434.8 157.3 L435.4 157.4 L436.0 157.5 L436.6 157.6 L437.2 157.7 L437.8 157.8 L438.4 158.0 L439.0 158.1 L439.5 158.2 L440.1 158.3 L440.7 158.4 L441.3 158.5 L441.9 158.6 L442.5 158.7 L443.1 158.8 L443.7 158.9 L444.3 159.0 L444.9 159.2 L445.5 159.3 L446.1 159.4 L446.7 159.5 L447.3 159.6 L447.8 159.7 L448.4 159.8 L449.0 159.9 L449.6 159.9 L450.2 160.0 L450.8 160.1 L451.4 160.2 L452.0 160.3 L452.6 160.4 L453.2 160.5 L453.8 160.6 L454.4 160.7 L455.0 160.7 L455.6 160.8 L456.2 160.9 L456.8 161.0 L457.4 161.1 L458.0 161.1 L458.6 161.2 L459.2 161.3 L459.8 161.4 L460.4 161.5 L461.0 161.5 L461.5 161.6 L462.1 161.7 L462.7 161.8 L463.3 161.8 L463.9 161.9 L464.5 162.0 L465.1 162.1 L465.7 162.1 L466.3 162.2 L466.9 162.3 L467.5 162.4 L468.1 162.4 L468.7 162.5 L469.3 162.6 L469.9 162.6 L470.5 162.7 L471.1 162.8 L471.7 162.9 L472.3 162.9 L472.9 163.0 L473.5 163.1 L474.1 163.2 L474.7 163.2 L475.3 163.3 L475.9 163.4 L476.5 163.5 L477.1 163.6 L477.7 163.6 L478.3 163.7 L478.9 163.8 L479.5 163.9 L480.1 164.0 L480.7 164.1 L481.3 164.1 L481.8 164.2 L482.4 164.3 L483.0 164.4 L483.6 164.5 L484.2 164.6 L484.8 164.7 L485.4 164.8 L486.0 164.9 L486.6 165.0 L487.2 165.1 L487.8 165.3 L488.4 165.4 L489.0 165.5 L489.5 165.6 L490.1 165.8 L490.7 165.9 L491.3 166.0 L491.9 166.2 L492.5 166.3 L493.1 166.4 L493.7 166.5 L494.3 166.6 L494.8 166.8 L495.4 166.9 L496.0 167.0 L496.6 167.1 L497.2 167.2 L497.8 167.4 L498.4 167.5 L499.0 167.6 L499.6 167.7 L500.2 167.7 L500.8 167.8 L501.4 167.8 L502.0 167.9 L502.6 167.9 L503.2 168.0 L503.8 168.0 L504.4 168.1 L505.0 168.1 L505.6 168.1 L506.2 168.2 L506.8 168.2 L507.4 168.2 L508.0 168.2 L508.6 168.2 L509.2 168.2 L509.8 168.2 L510.4 168.1 L511.0 168.1 L511.6 168.1 L512.2 168.0 L512.8 168.0 L513.4 167.9 L514.0 167.9 L514.6 167.9 L515.2 167.8 L515.8 167.7 L516.4 167.6 L517.0 167.6 L517.6 167.5 L518.2 167.4 L518.8 167.3 L519.4 167.2 L520.0 167.1 L520.6 167.0 L521.1 166.9 L521.7 166.8 L522.3 166.7 L522.9 166.7 L523.5 166.6 L524.1 166.5 L524.7 166.4 L525.3 166.3 L525.9 166.2 L526.5 166.1 L527.1 166.1 L527.7 166.0 L528.3 165.9 L528.9 165.8 L529.5 165.8 L530.1 165.7 L530.7 165.6 L531.3 165.5 L531.9 165.5 L532.5 165.4 L533.1 165.3 L533.7 165.3 L534.3 165.2 L534.9 165.1 L535.5 165.1 L536.1 165.0 L536.7 165.0 L537.3 164.9 L537.9 164.8 L538.5 164.8 L539.1 164.7 L539.7 164.7 L540.3 164.6 L540.9 164.6 L541.5 164.6 L542.1 164.5 L542.7 164.5 L543.3 164.4 L543.9 164.4 L544.5 164.4 L545.1 164.3 L545.7 164.3 L546.3 164.3 L546.9 164.2 L547.5 164.2 L548.1 164.2 L548.7 164.1 L549.3 164.1 L549.9 164.1 L550.5 164.1 L551.1 164.1 L551.7 164.0 L552.3 164.0 L552.9 164.0 L553.5 164.0 L554.1 164.0 L554.7 163.9 L555.3 163.9 L555.9 163.9 L556.5 163.9 L557.1 163.8 L557.7 163.8 L558.3 163.8 L558.9 163.8 L559.5 163.8 L560.1 163.7 L560.7 163.7 L561.3 163.7 L561.9 163.7 L562.5 163.7 L563.1 163.7 L563.7 163.6 L564.3 163.6 L564.9 163.6 L565.5 163.6 L566.1 163.6 L566.7 163.6 L567.3 163.6 L567.9 163.6 L568.5 163.6 L569.1 163.6 L569.7 163.5 L570.3 163.5 L570.9 163.5 L571.5 163.5 L572.1 163.5 L572.8 163.5 L573.4 163.5 L574.0 163.5 L574.6 163.5 L575.2 163.5 L575.8 163.5 L576.4 163.5 L577.0 163.5 L577.6 163.5 L578.2 163.4 L578.8 163.4 L579.4 163.4 L580.0 163.4 L580.6 163.4 L581.2 163.4 L581.8 163.4 L582.4 163.4 L583.0 163.4 L583.6 163.4 L584.2 163.4 L584.8 163.4 L585.4 163.4 L586.0 163.4 L586.6 163.4 L587.2 163.4 L587.8 163.4" stroke="#e19c24"/>
<path d="M372.4 43.2 L372.4 43.8 L372.4 44.4 L372.4 45.0 L372.4 45.6 L372.4 46.2 L372.4 46.8 L372.5 47.4 L372.5 48.0 L372.5 48.6 L372.5 49.2 L372.5 49.8 L372.5 50.4 L372.5 51.0 L372.5 51.6 L372.6 52.2 L372.6 52.8 L372.6 53.4 L372.6 54.0 L372.6 54.6 L372.6 55.2 L372.7 55.8 L372.7 56.4 L372.7 57.0 L372.7 57.6 L372.7 58.2 L372.8 58.8 L372.8 59.4 L372.8 60.0 L372.8 60.6 L372.9 61.2 L372.9 61.8 L372.9 62.4 L372.9 63.0 L372.9 63.6 L373.0 64.2 L373.0 64.8 L373.0 65.4 L373.0 66.0 L373.1 66.6 L373.1 67.2 L373.1 67.8 L373.1 68.4 L373.2 69.0 L373.2 69.6 L373.2 70.2 L373.2 70.8 L373.3 71.4 L373.3 72.0 L373.3 72.6 L373.4 73.2 L373.4 73.8 L373.4 74.4 L373.5 75.0 L373.5 75.6 L373.5 76.2 L373.6 76.8 L373.6 77.4 L373.7 78.0 L373.7 78.6 L373.7 79.3 L373.8 79.9 L373.8 80.5 L373.9 81.1 L373.9 81.7 L373.9 82.3 L374.0 82.9 L374.0 83.5 L374.1 84.1 L374.1 84.7 L374.1 85.3 L374.2 85.9 L374.2 86.5 L374.2 87.1 L374.3 87.7 L374.3 88.3 L374.4 88.9 L374.4 89.5 L374.4 90.1 L374.5 90.7 L374.5 91.3 L374.6 91.9 L374.6 92.5 L374.6 93.1 L374.7 93.7 L374.7 94.3 L374.8 94.9 L374.8 95.4 L374.9 96.0 L374.9 96.6 L375.0 97.2 L375.0 97.8 L375.1 98.4 L375.1 99.0 L375.2 99.6 L375.2 100.2 L375.3 100.8 L375.3 101.4 L375.4 102.0 L375.5 102.6 L375.5 103.2 L375.6 103.8 L375.6 104.4 L375.7 105.0 L375.8 105.6 L375.8 106.2 L375.9 106.8 L376.0 107.4 L376.0 108.0 L376.1 108.6 L376.2 109.2 L376.2 109.8 L376.3 110.4 L376.4 111.0 L376.5 111.6 L376.5 112.2 L376.6 112.8 L376.7 113.4 L376.8 114.0 L376.8 114.6 L376.9 115.2 L377.0 115.8 L377.1 116.4 L377.2 117.0 L377.3 117.6 L377.4 118.2 L377.5 118.7 L377.6 119.3 L377.7 119.9 L377.9 120.5 L378.0 121.1 L378.2 121.7 L378.3 122.3 L378.5 122.8 L378.6 123.4 L378.8 124.0 L379.0 124.6 L379.1 125.2 L379.3 125.7 L379.5 126.3 L379.7 126.9 L379.9 127.5 L380.1 128.0 L380.3 128.6 L380.4 129.2 L380.7 129.7 L380.9 130.3 L381.1 130.8 L381.3 131.4 L381.5 132.0 L381.8 132.5 L382.0 133.1 L382.3 133.6 L382.5 134.2 L382.8 134.7 L383.0 135.3 L383.3 135.8 L383.6 136.3 L383.9 136.9 L384.2 137.4 L384.4 137.9 L384.8 138.4 L385.1 138.9 L385.4 139.4 L385.7 140.0 L386.1 140.5 L386.4 141.0 L386.8 141.4 L387.1 141.9 L387.5 142.4 L387.9 142.8 L388.3 143.3 L388.6 143.8 L389.1 144.2 L389.5 144.6 L389.9 145.1 L390.3 145.5 L390.8 145.9 L391.2 146.3 L391.7 146.7 L392.1 147.1 L392.6 147.5 L393.0 147.9 L393.5 148.3 L394.0 148.6 L394.5 149.0 L395.0 149.3 L395.5 149.6 L396.0 150.0 L396.5 150.3 L397.0 150.6 L397.5 150.9 L398.0 151.2 L398.6 151.5 L399.1 151.8 L399.6 152.1 L400.1 152.4 L400.7 152.7 L401.2 153.0 L401.7 153.2 L402.3 153.5 L402.8 153.8 L403.4 154.0 L403.9 154.3 L404.5 154.5 L405.0 154.7 L405.6 154.9 L406.1 155.1 L406.7 155.4 L407.3 155.6 L407.8 155.8 L408.4 155.9 L409.0 156.1 L409.6 156.3 L410.1 156.5 L410.7 156.7 L411.3 156.9 L411.9 157.0 L412.4 157.2 L413.0 157.4 L413.6 157.5 L414.2 157.7 L414.8 157.9 L415.3 158.0 L415.9 158.2 L416.5 158.4 L417.1 158.5 L417.7 158.7 L418.2 158.8 L418.8 159.0 L419.4 159.1 L420.0 159.3 L420.6 159.4 L421.1 159.6 L421.7 159.7 L422.3 159.9 L422.9 160.0 L423.5 160.1 L424.1 160.3 L424.7 160.4 L425.3 160.5 L425.8 160.6 L426.4 160.7 L427.0 160.9 L427.6 161.0 L428.2 161.1 L428.8 161.2 L429.4 161.3 L430.0 161.4 L430.6 161.6 L431.2 161.7 L431.7 161.8 L432.3 161.9 L432.9 162.0 L433.5 162.1 L434.1 162.2 L434.7 162.3 L435.3 162.4 L435.9 162.6 L436.5 162.7 L437.1 162.8 L437.7 162.9 L438.2 163.0 L438.8 163.1 L439.4 163.3 L440.0 163.4 L440.6 163.5 L441.2 163.7 L441.8 163.8 L442.3 164.0 L442.9 164.1 L443.5 164.3 L444.1 164.4 L444.7 164.6 L445.2 164.7 L445.8 164.9 L446.4 165.0 L447.0 165.2 L447.6 165.3 L448.2 165.5 L448.8 165.6 L449.3 165.7 L449.9 165.9 L450.5 166.0 L451.1 166.1 L451.7 166.2 L452.3 166.4 L452.9 166.5 L453.5 166.6 L454.1 166.7 L454.6 166.8 L455.2 166.9 L455.8 167.0 L456.4 167.1 L457.0 167.2 L457.6 167.3 L458.2 167.4 L458.8 167.4 L459.4 167.4 L460.0 167.4 L460.6 167.4 L461.2 167.4 L461.8 167.4 L462.4 167.4 L463.0 167.4 L463.6 167.4 L464.2 167.4 L464.8 167.4 L465.4 167.4 L466.0 167.3 L466.6 167.3 L467.2 167.2 L467.8 167.1 L468.4 167.0 L469.0 166.9 L469.6 166.8 L470.2 166.7 L470.8 166.6 L471.4 166.4 L472.0 166.3 L472.6 166.2 L473.1 166.1 L473.7 165.9 L474.3 165.8 L474.9 165.6 L475.5 165.5 L476.1 165.3 L476.6 165.2 L477.2 165.1 L477.8 165.0 L478.4 164.9 L479.0 164.8 L479.6 164.7 L480.2 164.7 L480.8 164.6 L481.4 164.5 L482.0 164.4 L482.6 164.4 L483.2 164.3 L483.8 164.3 L484.4 164.2 L485.0 164.2 L485.6 164.1 L486.2 164.1 L486.8 164.0 L487.4 164.0 L488.0 163.9 L488.6 163.9 L489.2 163.9 L489.8 163.8 L490.4 163.8 L491.0 163.8 L491.6 163.8 L492.2 163.7 L492.8 163.7 L493.4 163.7 L494.0 163.7 L494.6 163.6 L495.2 163.6 L495.8 163.6 L496.4 163.6 L497.0 163.6 L497.6 163.6 L498.2 163.5 L498.8 163.5 L499.4 163.5 L500.0 163.5 L500.6 163.5 L501.2 163.5 L501.8 163.5 L502.4 163.5 L503.0 163.5 L503.6 163.5 L504.2 163.5 L504.8 163.4 L505.4 163.4 L506.0 163.4 L506.6 163.4 L507.2 163.4 L507.8 163.4 L508.4 163.4 L509.0 163.4 L509.6 163.4 L510.2 163.4 L510.8 163.4 L511.4 163.4 L512.0 163.4 L512.6 163.4 L513.2 163.3 L513.8 163.3 L514.4 163.3 L515.0 163.3 L515.6 163.3 L516.2 163.3 L516.8 163.3 L517.4 163.3 L518.0 163.3 L518.7 163.3 L519.3 163.3 L519.9 163.3 L520.5 163.3 L521.1 163.3 L521.7 163.3 L522.3 163.3 L522.9 163.3 L523.5 163.3 L524.1 163.3 L524.7 163.2 L525.3 163.2 L525.9 163.2 L526.5 163.2 L527.1 163.2 L527.7 163.2 L528.3 163.2 L528.9 163.2 L529.5 163.2 L530.1 163.2 L530.7 163.2 L531.3 163.2 L531.9 163.2 L532.5 163.2 L533.1 163.2 L533.7 163.2 L534.3 163.2 L534.9 163.2 L535.5 163.2 L536.1 163.2 L536.7 163.2 L537.3 163.2 L537.9 163.2 L538.5 163.2 L539.1 163.2 L539.7 163.2 L540.3 163.2 L540.9 163.2 L541.5 163.2 L542.1 163.2 L542.7 163.2 L543.3 163.2 L543.9 163.2 L544.5 163.2 L545.1 163.2 L545.7 163.2 L546.3 163.2 L546.9 163.2 L547.5 163.2 L548.1 163.2 L548.7 163.2 L549.3 163.2 L549.9 163.2 L550.5 163.2 L551.1 163.2 L551.7 163.2 L552.3 163.1 L552.9 163.1 L553.5 163.1 L554.1 163.1 L554.7 163.1 L555.3 163.1 L555.9 163.1 L556.5 163.1 L557.1 163.1 L557.7 163.1 L558.3 163.1 L558.9 163.1 L559.5 163.1 L560.1 163.1 L560.7 163.1 L561.3 163.1 L561.9 163.1 L562.5 163.1 L563.1 163.1 L563.7 163.1 L564.3 163.1 L565.0 163.1 L565.6 163.1 L566.2 163.1 L566.8 163.1 L567.4 163.1 L568.0 163.1 L568.6 163.1 L569.2 163.1 L569.8 163.1 L570.4 163.1 L571.0 163.1 L571.6 163.1 L572.2 163.1 L572.8 163.1 L573.4 163.1 L574.0 163.1 L574.6 163.1 L575.2 163.1 L575.8 163.1 L576.4 163.1 L577.0 163.1 L577.6 163.1 L578.2 163.1 L578.8 163.1 L579.4 163.1 L580.0 163.1 L580.6 163.1 L581.2 163.1 L581.8 163.1 L582.4 163.1 L583.0 163.1 L583.6 163.1 L584.2 163.1 L584.8 163.1 L585.4 163.1 L586.0 163.1 L586.6 163.1 L587.2 163.1 L587.8 163.1" stroke="#8fb032"/>
<path class="ax" d="M369.4 163.15H588.1M369.4 178V43"/>
<path class="tk" d="M398.56 163.15v-2.7M427.72 163.15v-2.7M456.88 163.15v-2.7M486.04 163.15v-2.7M515.2 163.15v-2.7M544.36 163.15v-2.7M573.52 163.15v-2.7M376.69 163.15v-1.7M383.98 163.15v-1.7M391.27 163.15v-1.7M405.85 163.15v-1.7M413.14 163.15v-1.7M420.43 163.15v-1.7M435.01 163.15v-1.7M442.3 163.15v-1.7M449.59 163.15v-1.7M464.17 163.15v-1.7M471.46 163.15v-1.7M478.75 163.15v-1.7M493.33 163.15v-1.7M500.62 163.15v-1.7M507.91 163.15v-1.7M522.49 163.15v-1.7M529.78 163.15v-1.7M537.07 163.15v-1.7M551.65 163.15v-1.7M558.94 163.15v-1.7M566.23 163.15v-1.7M580.81 163.15v-1.7M369.4 125.6h2.7M369.4 88.05h2.7M369.4 50.5h2.7M369.4 42.99h2.7M369.4 178.17h2.7M369.4 170.66h1.7M369.4 155.64h1.7M369.4 148.13h1.7M369.4 140.62h1.7M369.4 133.11h1.7M369.4 118.09h1.7M369.4 110.58h1.7M369.4 103.07h1.7M369.4 95.56h1.7M369.4 80.54h1.7M369.4 73.03h1.7M369.4 65.52h1.7M369.4 58.01h1.7"/>
<path d="M17.4 357.9 L18.0 357.9 L18.6 357.9 L19.2 357.9 L19.8 357.9 L20.4 357.9 L21.0 357.9 L21.6 357.9 L22.2 357.9 L22.8 357.9 L23.4 357.9 L24.0 357.9 L24.6 357.9 L25.2 357.9 L25.8 357.9 L26.4 357.9 L27.0 357.9 L27.6 357.9 L28.2 357.9 L28.8 357.9 L29.4 357.9 L30.0 357.9 L30.6 357.9 L31.2 357.9 L31.8 357.9 L32.4 357.9 L33.0 357.9 L33.6 357.9 L34.2 357.9 L34.8 357.9 L35.4 357.9 L36.0 357.9 L36.6 357.9 L37.2 357.9 L37.8 357.9 L38.4 357.9 L39.1 357.9 L39.7 357.9 L40.3 357.9 L40.9 357.9 L41.5 357.9 L42.1 357.9 L42.7 357.9 L43.3 357.9 L43.9 357.9 L44.5 357.9 L45.1 357.9 L45.7 357.9 L46.3 357.9 L46.9 357.9 L47.5 357.9 L48.1 357.9 L48.7 357.9 L49.3 357.9 L49.9 357.9 L50.5 357.9 L51.1 357.9 L51.7 357.9 L52.3 357.9 L52.9 357.9 L53.5 357.9 L54.1 357.9 L54.7 357.9 L55.3 357.9 L55.9 357.9 L56.5 357.9 L57.1 357.9 L57.7 357.9 L58.3 357.9 L58.9 357.9 L59.5 357.9 L60.1 357.9 L60.7 357.9 L61.3 357.9 L61.9 357.9 L62.5 357.9 L63.1 357.9 L63.7 357.9 L64.3 357.9 L64.9 357.9 L65.5 357.9 L66.1 357.9 L66.7 357.9 L67.3 357.9 L67.9 357.9 L68.5 357.9 L69.1 357.9 L69.7 357.9 L70.3 357.9 L70.9 357.9 L71.5 357.9 L72.1 357.9 L72.7 357.9 L73.3 357.9 L73.9 357.8 L74.5 357.8 L75.1 357.8 L75.7 357.8 L76.3 357.7 L76.9 357.6 L77.5 357.4 L78.1 357.2 L78.6 357.0 L79.2 356.7 L79.7 356.4 L80.2 356.0 L80.6 355.6 L81.0 355.2 L81.4 354.7 L81.7 354.2 L82.1 353.7 L82.4 353.2 L82.7 352.7 L83.0 352.1 L83.2 351.5 L83.4 351.0 L83.6 350.4 L83.8 349.9 L84.0 349.3 L84.2 348.7 L84.3 348.2 L84.5 347.6 L84.7 347.0 L84.8 346.4 L84.9 345.8 L85.1 345.2 L85.2 344.6 L85.4 344.0 L85.5 343.5 L85.6 342.9 L85.8 342.3 L85.9 341.7 L86.0 341.1 L86.1 340.5 L86.3 339.9 L86.4 339.3 L86.5 338.7 L86.6 338.2 L86.7 337.6 L86.8 337.0 L86.9 336.4 L87.0 335.8 L87.1 335.2 L87.1 334.6 L87.2 334.0 L87.3 333.4 L87.4 332.8 L87.5 332.2 L87.5 331.6 L87.6 331.0 L87.7 330.4 L87.7 329.8 L87.8 329.2 L87.9 328.6 L87.9 328.0 L88.0 327.4 L88.1 326.8 L88.1 326.2 L88.2 325.6 L88.2 325.0 L88.3 324.4 L88.4 323.8 L88.4 323.2 L88.5 322.6 L88.5 322.0 L88.6 321.4 L88.7 320.8 L88.7 320.2 L88.8 319.6 L88.8 319.0 L88.9 318.4 L88.9 317.8 L89.0 317.2 L89.0 316.6 L89.1 316.1 L89.1 315.5 L89.2 314.9 L89.3 314.3 L89.3 313.7 L89.4 313.1 L89.4 312.5 L89.5 311.9 L89.5 311.3 L89.6 310.7 L89.6 310.1 L89.7 309.5 L89.8 308.9 L89.8 308.3 L89.9 307.7 L89.9 307.1 L90.0 306.5 L90.0 305.9 L90.1 305.3 L90.2 304.7 L90.2 304.1 L90.3 303.5 L90.3 302.9 L90.4 302.3 L90.4 301.7 L90.5 301.1 L90.5 300.5 L90.6 299.9 L90.7 299.3 L90.7 298.7 L90.8 298.1 L90.8 297.5 L90.9 296.9 L90.9 296.3 L91.0 295.7 L91.0 295.1 L91.1 294.5 L91.1 293.9 L91.2 293.3 L91.2 292.7 L91.3 292.1 L91.3 291.5 L91.3 290.9 L91.4 290.3 L91.4 289.7 L91.5 289.1 L91.5 288.5 L91.6 287.9 L91.6 287.3 L91.7 286.7 L91.7 286.1 L91.8 285.5 L91.8 284.9 L91.8 284.3 L91.9 283.7 L91.9 283.1 L92.0 282.5 L92.0 281.9 L92.0 281.3 L92.1 280.7 L92.1 280.1 L92.2 279.5 L92.2 278.9 L92.3 278.3 L92.3 277.7 L92.4 277.1 L92.4 276.5 L92.5 275.9 L92.5 275.3 L92.6 274.7 L92.6 274.1 L92.7 273.5 L92.7 272.9 L92.8 272.3 L92.8 271.7 L92.9 271.1 L92.9 270.5 L93.0 269.9 L93.0 269.3 L93.1 268.7 L93.2 268.1 L93.2 267.5 L93.3 266.9 L93.3 266.3 L93.4 265.7 L93.5 265.1 L93.5 264.5 L93.6 263.9 L93.7 263.3 L93.7 262.7 L93.8 262.1 L93.9 261.5 L93.9 260.9 L94.0 260.3 L94.1 259.7 L94.2 259.1 L94.2 258.6 L94.3 258.0 L94.4 257.4 L94.5 256.8 L94.6 256.2 L94.7 255.6 L94.7 255.0 L94.8 254.4 L94.9 253.8 L95.0 253.2 L95.1 252.6 L95.2 252.0 L95.3 251.4 L95.4 250.8 L95.5 250.2 L95.6 249.6 L95.7 249.0 L95.8 248.4 L95.9 247.8 L96.0 247.2 L96.1 246.7 L96.2 246.1 L96.3 245.5 L96.4 244.9 L96.6 244.3 L96.7 243.7 L96.9 243.1 L97.0 242.6 L97.2 242.0 L97.4 241.4 L97.6 240.8 L97.8 240.3 L98.0 239.7 L98.2 239.1 L98.4 238.6 L98.7 238.0 L98.9 237.5 L99.2 236.9 L99.4 236.3 L99.7 235.8 L100.0 235.3 L100.4 234.8 L100.7 234.3 L101.1 233.9 L101.5 233.5 L102.0 233.1 L102.5 232.8 L103.1 232.5 L103.6 232.3 L104.2 232.1 L104.8 232.0 L105.4 231.9 L106.0 231.8 L106.6 231.8 L107.2 231.8 L107.8 231.9 L108.4 232.0 L109.0 232.2 L109.6 232.3 L110.2 232.5 L110.7 232.6 L111.3 232.8 L111.9 232.9 L112.5 233.1 L113.1 233.2 L113.6 233.4 L114.2 233.6 L114.8 233.8 L115.4 233.9 L115.9 234.1 L116.5 234.3 L117.1 234.5 L117.7 234.6 L118.2 234.8 L118.8 235.0 L119.4 235.1 L120.0 235.3 L120.6 235.4 L121.2 235.6 L121.7 235.7 L122.3 235.9 L122.9 236.0 L123.5 236.1 L124.1 236.3 L124.7 236.4 L125.2 236.6 L125.8 236.7 L126.4 236.8 L127.0 237.0 L127.6 237.1 L128.2 237.2 L128.8 237.4 L129.4 237.5 L129.9 237.6 L130.5 237.8 L131.1 237.9 L131.7 238.0 L132.3 238.2 L132.9 238.3 L133.5 238.4 L134.0 238.6 L134.6 238.7 L135.2 238.8 L135.8 239.0 L136.4 239.1 L137.0 239.2 L137.6 239.4 L138.2 239.5 L138.7 239.6 L139.3 239.7 L139.9 239.8 L140.5 239.9 L141.1 240.1 L141.7 240.2 L142.3 240.3 L142.9 240.4 L143.5 240.5 L144.1 240.6 L144.7 240.7 L145.3 240.8 L145.8 240.9 L146.4 241.0 L147.0 241.1 L147.6 241.2 L148.2 241.3 L148.8 241.4 L149.4 241.5 L150.0 241.6 L150.6 241.7 L151.2 241.7 L151.8 241.8 L152.4 241.9 L153.0 242.0 L153.6 242.1 L154.2 242.1 L154.8 242.2 L155.4 242.3 L156.0 242.4 L156.6 242.4 L157.2 242.5 L157.8 242.6 L158.3 242.7 L158.9 242.7 L159.5 242.8 L160.1 242.9 L160.7 242.9 L161.3 243.0 L161.9 243.1 L162.5 243.1 L163.1 243.2 L163.7 243.2 L164.3 243.3 L164.9 243.4 L165.5 243.4 L166.1 243.5 L166.7 243.5 L167.3 243.6 L167.9 243.6 L168.5 243.7 L169.1 243.7 L169.7 243.7 L170.3 243.8 L170.9 243.8 L171.5 243.9 L172.1 243.9 L172.7 243.9 L173.3 244.0 L173.9 244.0 L174.5 244.0 L175.1 244.1 L175.7 244.1 L176.3 244.1 L176.9 244.2 L177.5 244.2 L178.1 244.2 L178.7 244.3 L179.3 244.3 L179.9 244.3 L180.5 244.4 L181.1 244.4 L181.7 244.4 L182.3 244.5 L182.9 244.5 L183.5 244.5 L184.1 244.5 L184.7 244.6 L185.3 244.6 L185.9 244.6 L186.5 244.6 L187.1 244.7 L187.7 244.7 L188.3 244.7 L188.9 244.7 L189.5 244.7 L190.1 244.8 L190.7 244.8 L191.3 244.8 L191.9 244.8 L192.6 244.8 L193.2 244.9 L193.8 244.9 L194.4 244.9 L195.0 244.9 L195.6 244.9 L196.2 245.0 L196.8 245.0 L197.4 245.0 L198.0 245.0 L198.6 245.0 L199.2 245.0 L199.8 245.1 L200.4 245.1 L201.0 245.1 L201.6 245.1 L202.2 245.1 L202.8 245.1 L203.4 245.2 L204.0 245.2 L204.6 245.2 L205.2 245.2 L205.8 245.2 L206.4 245.2 L207.0 245.2 L207.6 245.3 L208.2 245.3 L208.8 245.3 L209.4 245.3 L210.0 245.3 L210.6 245.3 L211.2 245.3 L211.8 245.3 L212.4 245.3 L213.0 245.4 L213.6 245.4 L214.2 245.4 L214.8 245.4 L215.4 245.4 L216.0 245.4 L216.6 245.4" stroke="#5e81b5"/>
<path d="M17.4 357.9 L18.0 357.9 L18.6 357.9 L19.2 357.9 L19.8 357.9 L20.4 357.9 L21.0 357.9 L21.6 357.9 L22.2 357.9 L22.8 357.9 L23.4 357.9 L24.0 357.9 L24.6 357.9 L25.2 357.9 L25.8 357.9 L26.4 357.9 L27.0 357.9 L27.6 357.9 L28.2 357.9 L28.8 357.9 L29.4 357.9 L30.0 357.9 L30.6 357.9 L31.2 357.9 L31.8 357.9 L32.4 357.9 L33.0 357.9 L33.7 357.9 L34.3 357.9 L34.9 357.9 L35.5 357.9 L36.1 357.9 L36.7 357.9 L37.3 357.9 L37.9 357.9 L38.5 357.9 L39.1 357.9 L39.7 357.9 L40.3 357.9 L40.9 357.9 L41.5 357.9 L42.1 357.9 L42.7 357.9 L43.3 357.9 L43.9 357.9 L44.5 357.9 L45.1 357.9 L45.7 357.9 L46.3 357.9 L46.9 357.9 L47.5 357.9 L48.1 357.9 L48.7 357.9 L49.3 357.9 L49.9 357.9 L50.5 357.9 L51.1 357.9 L51.7 357.9 L52.3 357.9 L52.9 357.9 L53.5 357.9 L54.1 357.9 L54.7 357.9 L55.3 357.9 L55.9 357.9 L56.5 357.9 L57.1 357.9 L57.7 357.9 L58.3 357.9 L58.9 357.9 L59.5 357.9 L60.1 357.9 L60.7 357.9 L61.3 357.9 L61.9 357.9 L62.5 357.9 L63.1 357.9 L63.7 357.9 L64.3 357.9 L65.0 357.9 L65.6 357.9 L66.2 357.9 L66.8 357.9 L67.4 357.8 L68.0 357.8 L68.6 357.8 L69.2 357.8 L69.8 357.7 L70.4 357.7 L71.0 357.6 L71.6 357.5 L72.1 357.3 L72.7 357.0 L73.2 356.7 L73.7 356.3 L74.1 355.9 L74.5 355.5 L74.9 355.0 L75.2 354.5 L75.5 354.0 L75.8 353.5 L76.1 352.9 L76.4 352.3 L76.6 351.8 L76.8 351.2 L77.0 350.7 L77.2 350.1 L77.4 349.5 L77.6 349.0 L77.7 348.4 L77.9 347.8 L78.0 347.2 L78.2 346.6 L78.3 346.0 L78.4 345.4 L78.6 344.8 L78.7 344.2 L78.8 343.7 L79.0 343.1 L79.1 342.5 L79.2 341.9 L79.4 341.3 L79.5 340.7 L79.6 340.1 L79.7 339.5 L79.8 338.9 L79.9 338.4 L80.1 337.8 L80.2 337.2 L80.3 336.6 L80.4 336.0 L80.4 335.4 L80.5 334.8 L80.6 334.2 L80.7 333.6 L80.8 333.0 L80.9 332.4 L81.0 331.8 L81.0 331.2 L81.1 330.6 L81.2 330.0 L81.3 329.4 L81.3 328.8 L81.4 328.2 L81.5 327.6 L81.5 327.0 L81.6 326.4 L81.7 325.8 L81.7 325.2 L81.8 324.6 L81.8 324.0 L81.9 323.4 L82.0 322.8 L82.0 322.2 L82.1 321.6 L82.1 321.0 L82.2 320.4 L82.2 319.8 L82.3 319.2 L82.3 318.6 L82.4 318.0 L82.4 317.4 L82.5 316.8 L82.5 316.2 L82.6 315.6 L82.6 315.0 L82.7 314.4 L82.7 313.8 L82.8 313.2 L82.8 312.6 L82.9 312.0 L82.9 311.4 L83.0 310.8 L83.0 310.2 L83.1 309.6 L83.1 309.0 L83.2 308.4 L83.2 307.8 L83.3 307.2 L83.3 306.6 L83.4 306.0 L83.4 305.4 L83.5 304.8 L83.5 304.2 L83.6 303.6 L83.6 303.0 L83.7 302.4 L83.7 301.9 L83.8 301.3 L83.8 300.7 L83.9 300.1 L83.9 299.5 L84.0 298.9 L84.0 298.3 L84.1 297.7 L84.1 297.1 L84.2 296.5 L84.2 295.9 L84.3 295.3 L84.3 294.7 L84.4 294.1 L84.4 293.5 L84.5 292.9 L84.5 292.3 L84.6 291.7 L84.6 291.1 L84.7 290.5 L84.7 289.9 L84.8 289.3 L84.8 288.7 L84.9 288.1 L84.9 287.5 L85.0 286.9 L85.0 286.3 L85.1 285.7 L85.1 285.1 L85.2 284.5 L85.2 283.9 L85.2 283.3 L85.3 282.7 L85.3 282.1 L85.4 281.5 L85.4 280.9 L85.5 280.3 L85.5 279.7 L85.6 279.1 L85.6 278.5 L85.7 277.9 L85.7 277.3 L85.8 276.7 L85.8 276.1 L85.9 275.5 L85.9 274.9 L86.0 274.3 L86.0 273.7 L86.1 273.1 L86.1 272.5 L86.2 271.9 L86.2 271.3 L86.3 270.7 L86.3 270.1 L86.4 269.5 L86.4 268.9 L86.5 268.3 L86.5 267.7 L86.6 267.1 L86.6 266.5 L86.7 265.9 L86.8 265.3 L86.8 264.7 L86.9 264.1 L86.9 263.5 L87.0 262.9 L87.1 262.3 L87.1 261.7 L87.2 261.1 L87.2 260.5 L87.3 259.9 L87.4 259.3 L87.4 258.7 L87.5 258.1 L87.6 257.5 L87.6 256.9 L87.7 256.3 L87.8 255.7 L87.9 255.1 L87.9 254.5 L88.0 253.9 L88.1 253.3 L88.2 252.7 L88.3 252.1 L88.3 251.5 L88.4 250.9 L88.5 250.3 L88.6 249.7 L88.7 249.1 L88.8 248.5 L88.9 247.9 L89.0 247.3 L89.1 246.7 L89.2 246.2 L89.3 245.6 L89.4 245.0 L89.5 244.4 L89.7 243.8 L89.8 243.2 L90.0 242.6 L90.1 242.0 L90.3 241.5 L90.5 240.9 L90.6 240.3 L90.8 239.7 L91.0 239.2 L91.2 238.6 L91.4 238.0 L91.7 237.5 L91.9 236.9 L92.2 236.3 L92.5 235.8 L92.8 235.2 L93.1 234.8 L93.4 234.3 L93.9 233.9 L94.4 233.6 L94.9 233.2 L95.5 232.9 L96.0 232.7 L96.6 232.7 L97.2 232.6 L97.8 232.5 L98.4 232.5 L99.0 232.5 L99.6 232.5 L100.2 232.6 L100.8 232.7 L101.4 232.9 L102.0 233.0 L102.5 233.2 L103.1 233.4 L103.7 233.5 L104.3 233.7 L104.9 233.8 L105.5 234.0 L106.0 234.2 L106.6 234.3 L107.2 234.5 L107.8 234.7 L108.3 234.9 L108.9 235.0 L109.5 235.2 L110.1 235.4 L110.7 235.5 L111.2 235.7 L111.8 235.8 L112.4 236.0 L113.0 236.1 L113.6 236.3 L114.2 236.4 L114.7 236.6 L115.3 236.7 L115.9 236.9 L116.5 237.0 L117.1 237.2 L117.7 237.3 L118.2 237.5 L118.8 237.6 L119.4 237.7 L120.0 237.9 L120.6 238.0 L121.2 238.1 L121.8 238.2 L122.4 238.4 L122.9 238.5 L123.5 238.6 L124.1 238.7 L124.7 238.9 L125.3 239.0 L125.9 239.1 L126.5 239.2 L127.1 239.3 L127.7 239.4 L128.3 239.5 L128.9 239.6 L129.4 239.8 L130.0 239.9 L130.6 240.0 L131.2 240.1 L131.8 240.2 L132.4 240.3 L133.0 240.4 L133.6 240.5 L134.2 240.6 L134.8 240.7 L135.4 240.7 L136.0 240.8 L136.6 240.9 L137.2 241.0 L137.8 241.1 L138.4 241.2 L139.0 241.2 L139.6 241.3 L140.1 241.4 L140.7 241.5 L141.3 241.6 L141.9 241.6 L142.5 241.7 L143.1 241.8 L143.7 241.9 L144.3 241.9 L144.9 242.0 L145.5 242.1 L146.1 242.1 L146.7 242.2 L147.3 242.3 L147.9 242.4 L148.5 242.4 L149.1 242.5 L149.7 242.6 L150.3 242.6 L150.9 242.7 L151.5 242.8 L152.1 242.9 L152.7 242.9 L153.3 243.0 L153.9 243.1 L154.5 243.2 L155.1 243.2 L155.7 243.3 L156.3 243.4 L156.9 243.5 L157.5 243.5 L158.1 243.6 L158.7 243.7 L159.3 243.8 L159.9 243.8 L160.5 243.9 L161.1 244.0 L161.7 244.1 L162.3 244.1 L162.9 244.2 L163.5 244.3 L164.1 244.3 L164.7 244.4 L165.3 244.4 L165.9 244.5 L166.5 244.5 L167.1 244.6 L167.7 244.6 L168.3 244.6 L168.9 244.7 L169.5 244.7 L170.1 244.7 L170.7 244.8 L171.3 244.8 L171.9 244.8 L172.5 244.9 L173.1 244.9 L173.7 244.9 L174.3 244.9 L174.9 245.0 L175.5 245.0 L176.1 245.0 L176.7 245.0 L177.3 245.0 L177.9 245.1 L178.5 245.1 L179.1 245.1 L179.7 245.1 L180.3 245.1 L180.9 245.2 L181.5 245.2 L182.1 245.2 L182.7 245.2 L183.3 245.2 L183.9 245.2 L184.5 245.3 L185.1 245.3 L185.7 245.3 L186.3 245.3 L186.9 245.3 L187.5 245.3 L188.1 245.3 L188.7 245.4 L189.3 245.4 L189.9 245.4 L190.5 245.4 L191.1 245.4 L191.7 245.4 L192.3 245.4 L192.9 245.4 L193.5 245.4 L194.1 245.5 L194.7 245.5 L195.3 245.5 L195.9 245.5 L196.5 245.5 L197.1 245.5 L197.7 245.5 L198.3 245.5 L198.9 245.5 L199.5 245.6 L200.1 245.6 L200.7 245.6 L201.3 245.6 L201.9 245.6 L202.5 245.6 L203.1 245.6 L203.7 245.6 L204.4 245.6 L205.0 245.6 L205.6 245.7 L206.2 245.7 L206.8 245.7 L207.4 245.7 L208.0 245.7 L208.6 245.7 L209.2 245.7 L209.8 245.7 L210.4 245.7 L211.0 245.7 L211.6 245.7 L212.2 245.7 L212.8 245.7 L213.4 245.8 L214.0 245.8 L214.6 245.8 L215.2 245.8 L215.8 245.8 L216.4 245.8 L217.0 245.8 L217.6 245.8 L218.2 245.8 L218.8 245.8 L219.4 245.8 L220.0 245.8" stroke="#e19c24"/>
<path d="M17.4 357.9 L18.0 357.9 L18.6 357.9 L19.2 357.9 L19.8 357.9 L20.4 357.9 L21.0 357.9 L21.6 357.9 L22.2 357.9 L22.8 357.9 L23.4 357.9 L24.0 357.9 L24.6 357.9 L25.2 357.9 L25.8 357.9 L26.4 357.9 L27.0 357.9 L27.6 357.9 L28.2 357.9 L28.8 357.9 L29.4 357.9 L30.0 357.9 L30.6 357.9 L31.2 357.9 L31.8 357.9 L32.4 357.9 L33.0 357.9 L33.6 357.9 L34.2 357.9 L34.8 357.9 L35.4 357.9 L36.1 357.9 L36.7 357.9 L37.3 357.9 L37.9 357.9 L38.5 357.9 L39.1 357.9 L39.7 357.9 L40.3 357.9 L40.9 357.9 L41.5 357.9 L42.1 357.9 L42.7 357.9 L43.3 357.9 L43.9 357.9 L44.5 357.8 L45.1 357.8 L45.7 357.8 L46.3 357.7 L46.9 357.5 L47.4 357.3 L48.0 357.0 L48.4 356.7 L48.9 356.3 L49.3 355.9 L49.7 355.4 L50.1 354.9 L50.5 354.4 L50.8 353.9 L51.1 353.4 L51.3 352.9 L51.6 352.3 L51.9 351.8 L52.1 351.2 L52.3 350.6 L52.5 350.1 L52.7 349.5 L52.9 348.9 L53.1 348.4 L53.3 347.8 L53.4 347.2 L53.6 346.6 L53.7 346.0 L53.9 345.5 L54.0 344.9 L54.2 344.3 L54.3 343.7 L54.4 343.1 L54.6 342.5 L54.7 341.9 L54.8 341.3 L54.9 340.8 L55.0 340.2 L55.1 339.6 L55.2 339.0 L55.3 338.4 L55.4 337.8 L55.5 337.2 L55.6 336.6 L55.7 336.0 L55.8 335.4 L55.9 334.8 L56.0 334.2 L56.1 333.6 L56.2 333.0 L56.3 332.4 L56.3 331.8 L56.4 331.2 L56.5 330.6 L56.6 330.0 L56.7 329.5 L56.8 328.9 L56.9 328.3 L56.9 327.7 L57.0 327.1 L57.1 326.5 L57.2 325.9 L57.2 325.3 L57.3 324.7 L57.4 324.1 L57.4 323.5 L57.5 322.9 L57.5 322.3 L57.6 321.7 L57.7 321.1 L57.7 320.5 L57.7 319.9 L57.8 319.3 L57.8 318.7 L57.9 318.1 L57.9 317.5 L58.0 316.9 L58.0 316.3 L58.1 315.7 L58.1 315.1 L58.1 314.5 L58.2 313.9 L58.2 313.3 L58.3 312.7 L58.3 312.1 L58.4 311.5 L58.4 310.9 L58.5 310.3 L58.5 309.7 L58.6 309.1 L58.6 308.5 L58.7 307.9 L58.7 307.3 L58.8 306.7 L58.8 306.1 L58.9 305.5 L58.9 304.9 L59.0 304.3 L59.0 303.7 L59.1 303.1 L59.2 302.5 L59.2 301.9 L59.3 301.3 L59.3 300.7 L59.4 300.1 L59.4 299.5 L59.5 298.9 L59.5 298.3 L59.6 297.7 L59.6 297.1 L59.7 296.5 L59.7 295.9 L59.8 295.3 L59.8 294.7 L59.9 294.1 L59.9 293.5 L60.0 292.9 L60.0 292.3 L60.1 291.7 L60.1 291.1 L60.2 290.5 L60.2 289.9 L60.3 289.3 L60.3 288.7 L60.4 288.1 L60.4 287.5 L60.5 286.9 L60.5 286.3 L60.5 285.7 L60.6 285.1 L60.6 284.5 L60.7 283.9 L60.7 283.3 L60.8 282.7 L60.8 282.1 L60.9 281.5 L60.9 280.9 L61.0 280.3 L61.0 279.7 L61.1 279.1 L61.1 278.5 L61.2 277.9 L61.2 277.3 L61.3 276.7 L61.3 276.1 L61.4 275.5 L61.4 274.9 L61.5 274.3 L61.5 273.7 L61.6 273.1 L61.6 272.5 L61.7 271.9 L61.7 271.3 L61.8 270.7 L61.8 270.1 L61.9 269.5 L61.9 268.9 L62.0 268.3 L62.0 267.7 L62.1 267.1 L62.1 266.5 L62.2 265.9 L62.2 265.3 L62.3 264.7 L62.3 264.1 L62.4 263.5 L62.5 262.9 L62.5 262.3 L62.6 261.7 L62.6 261.1 L62.7 260.5 L62.8 259.9 L62.8 259.3 L62.9 258.7 L62.9 258.1 L63.0 257.5 L63.1 256.9 L63.2 256.3 L63.2 255.8 L63.3 255.2 L63.4 254.6 L63.4 254.0 L63.5 253.4 L63.6 252.8 L63.7 252.2 L63.7 251.6 L63.8 251.0 L63.9 250.4 L64.0 249.8 L64.1 249.2 L64.2 248.6 L64.3 248.0 L64.4 247.4 L64.4 246.8 L64.6 246.2 L64.7 245.6 L64.8 245.0 L64.9 244.4 L65.0 243.9 L65.1 243.3 L65.3 242.7 L65.4 242.1 L65.6 241.5 L65.7 240.9 L65.9 240.3 L66.0 239.8 L66.2 239.2 L66.4 238.6 L66.7 238.0 L66.9 237.5 L67.2 236.9 L67.4 236.3 L67.8 235.8 L68.1 235.4 L68.5 235.0 L69.0 234.6 L69.5 234.3 L70.1 234.0 L70.7 233.8 L71.2 233.7 L71.8 233.8 L72.4 233.9 L73.0 234.1 L73.5 234.4 L74.1 234.6 L74.7 234.9 L75.2 235.1 L75.8 235.4 L76.3 235.7 L76.8 235.9 L77.3 236.2 L77.9 236.5 L78.4 236.8 L78.9 237.1 L79.5 237.4 L80.0 237.6 L80.6 237.9 L81.1 238.1 L81.7 238.4 L82.2 238.6 L82.8 238.8 L83.3 239.1 L83.9 239.3 L84.5 239.5 L85.0 239.7 L85.6 239.9 L86.2 240.1 L86.7 240.2 L87.3 240.4 L87.9 240.6 L88.5 240.8 L89.1 240.9 L89.6 241.1 L90.2 241.2 L90.8 241.4 L91.4 241.5 L92.0 241.7 L92.6 241.8 L93.1 242.0 L93.7 242.1 L94.3 242.2 L94.9 242.3 L95.5 242.4 L96.1 242.5 L96.7 242.7 L97.3 242.8 L97.9 242.9 L98.5 243.0 L99.1 243.1 L99.6 243.2 L100.2 243.3 L100.8 243.4 L101.4 243.4 L102.0 243.5 L102.6 243.6 L103.2 243.7 L103.8 243.7 L104.4 243.8 L105.0 243.9 L105.6 243.9 L106.2 244.0 L106.8 244.0 L107.4 244.1 L108.0 244.1 L108.6 244.2 L109.2 244.2 L109.8 244.3 L110.4 244.3 L111.0 244.4 L111.6 244.4 L112.2 244.4 L112.8 244.5 L113.4 244.5 L114.0 244.6 L114.6 244.6 L115.2 244.6 L115.8 244.7 L116.4 244.7 L117.0 244.7 L117.6 244.7 L118.2 244.8 L118.8 244.8 L119.4 244.8 L120.0 244.9 L120.6 244.9 L121.2 244.9 L121.8 244.9 L122.4 245.0 L123.0 245.0 L123.6 245.0 L124.2 245.0 L124.8 245.0 L125.4 245.1 L126.0 245.1 L126.6 245.1 L127.2 245.1 L127.8 245.2 L128.4 245.2 L129.0 245.2 L129.6 245.2 L130.2 245.2 L130.8 245.3 L131.4 245.3 L132.0 245.3 L132.6 245.3 L133.3 245.3 L133.9 245.3 L134.5 245.4 L135.1 245.4 L135.7 245.4 L136.3 245.4 L136.9 245.4 L137.5 245.4 L138.1 245.5 L138.7 245.5 L139.3 245.5 L139.9 245.5 L140.5 245.5 L141.1 245.5 L141.7 245.6 L142.3 245.6 L142.9 245.6 L143.5 245.6 L144.1 245.6 L144.7 245.6 L145.3 245.6 L145.9 245.6 L146.5 245.6 L147.1 245.7 L147.7 245.7 L148.3 245.7 L148.9 245.7 L149.5 245.7 L150.1 245.7 L150.7 245.7 L151.3 245.7 L151.9 245.7 L152.5 245.7 L153.1 245.7 L153.7 245.7 L154.3 245.8 L154.9 245.8 L155.5 245.8 L156.1 245.8 L156.7 245.8 L157.3 245.8 L157.9 245.8 L158.5 245.8 L159.1 245.8 L159.7 245.8 L160.3 245.8 L160.9 245.8 L161.5 245.8 L162.1 245.9 L162.7 245.9 L163.3 245.9 L163.9 245.9 L164.5 245.9 L165.1 245.9 L165.7 245.9 L166.3 245.9 L166.9 245.9 L167.5 245.9 L168.1 245.9 L168.7 245.9 L169.3 245.9 L169.9 245.9 L170.5 245.9 L171.1 246.0 L171.7 246.0 L172.3 246.0 L173.0 246.0 L173.6 246.0 L174.2 246.0 L174.8 246.0 L175.4 246.0 L176.0 246.0 L176.6 246.0 L177.2 246.0 L177.8 246.0 L178.4 246.0 L179.0 246.0 L179.6 246.0 L180.2 246.0 L180.8 246.1 L181.4 246.1 L182.0 246.1 L182.6 246.1 L183.2 246.1 L183.8 246.1 L184.4 246.1 L185.0 246.1 L185.6 246.1 L186.2 246.1 L186.8 246.1 L187.4 246.1 L188.0 246.1 L188.6 246.1 L189.2 246.1 L189.8 246.1 L190.4 246.1 L191.0 246.1 L191.6 246.1 L192.2 246.2 L192.8 246.2 L193.4 246.2 L194.0 246.2 L194.6 246.2 L195.2 246.2 L195.8 246.2 L196.4 246.2 L197.0 246.2 L197.6 246.2 L198.2 246.2 L198.8 246.2 L199.4 246.2 L200.0 246.2 L200.6 246.2 L201.2 246.2 L201.8 246.2 L202.4 246.2 L203.0 246.2 L203.6 246.2 L204.2 246.2 L204.8 246.2 L205.4 246.2 L206.0 246.2 L206.6 246.2 L207.2 246.2 L207.8 246.3 L208.4 246.3 L209.0 246.3 L209.6 246.3 L210.2 246.3 L210.9 246.3 L211.5 246.3 L212.1 246.3 L212.7 246.3 L213.3 246.3 L213.9 246.3 L214.5 246.3 L215.1 246.3 L215.7 246.3 L216.3 246.3 L216.9 246.3 L217.5 246.3 L218.1 246.3 L218.7 246.3 L219.3 246.3 L219.9 246.3 L220.5 246.3 L221.1 246.3 L221.7 246.3 L222.3 246.3 L222.9 246.3 L223.5 246.3 L224.1 246.3 L224.7 246.3 L225.3 246.3 L225.9 246.3 L226.5 246.3 L227.1 246.3 L227.7 246.3 L228.3 246.3" stroke="#8fb032"/>
<path class="ax" d="M13.2 358.2H232.04M17.45 360.4V225.9"/>
<path class="tk" d="M66 358.2v-2.7M114.55 358.2v-2.7M163.1 358.2v-2.7M211.65 358.2v-2.7M27.16 358.2v-1.7M36.87 358.2v-1.7M46.58 358.2v-1.7M56.29 358.2v-1.7M75.71 358.2v-1.7M85.42 358.2v-1.7M95.13 358.2v-1.7M104.84 358.2v-1.7M124.26 358.2v-1.7M133.97 358.2v-1.7M143.68 358.2v-1.7M153.39 358.2v-1.7M172.81 358.2v-1.7M182.52 358.2v-1.7M192.23 358.2v-1.7M201.94 358.2v-1.7M221.36 358.2v-1.7M231.07 358.2v-1.7M17.45 335.8h2.7M17.45 313.4h2.7M17.45 291h2.7M17.45 268.6h2.7M17.45 246.2h2.7M17.45 352.6h1.7M17.45 347h1.7M17.45 341.4h1.7M17.45 330.2h1.7M17.45 324.6h1.7M17.45 319h1.7M17.45 307.8h1.7M17.45 302.2h1.7M17.45 296.6h1.7M17.45 285.4h1.7M17.45 279.8h1.7M17.45 274.2h1.7M17.45 263h1.7M17.45 257.4h1.7M17.45 251.8h1.7M17.45 240.6h1.7M17.45 235h1.7M17.45 229.4h1.7"/>
<path d="M374.0 232.3 L374.0 232.9 L374.0 233.5 L374.0 234.1 L374.0 234.7 L374.0 235.3 L374.0 235.9 L374.0 236.5 L374.0 237.1 L374.0 237.7 L374.1 238.3 L374.1 238.9 L374.1 239.5 L374.1 240.1 L374.1 240.7 L374.1 241.3 L374.1 241.9 L374.1 242.5 L374.2 243.1 L374.2 243.8 L374.2 244.4 L374.2 245.0 L374.2 245.6 L374.3 246.2 L374.3 246.8 L374.3 247.4 L374.3 248.0 L374.3 248.6 L374.4 249.2 L374.4 249.8 L374.4 250.4 L374.4 251.0 L374.5 251.6 L374.5 252.2 L374.5 252.8 L374.6 253.4 L374.6 254.0 L374.6 254.6 L374.6 255.2 L374.7 255.8 L374.7 256.4 L374.7 257.0 L374.8 257.6 L374.8 258.2 L374.8 258.8 L374.9 259.4 L374.9 260.0 L374.9 260.6 L375.0 261.2 L375.0 261.8 L375.0 262.4 L375.1 263.0 L375.1 263.6 L375.1 264.2 L375.2 264.8 L375.2 265.4 L375.3 266.0 L375.3 266.6 L375.3 267.2 L375.4 267.8 L375.4 268.4 L375.4 269.0 L375.5 269.6 L375.5 270.2 L375.6 270.8 L375.6 271.4 L375.6 272.0 L375.7 272.6 L375.8 273.2 L375.8 273.8 L375.9 274.4 L375.9 275.0 L376.0 275.6 L376.1 276.2 L376.1 276.8 L376.2 277.4 L376.3 278.0 L376.3 278.6 L376.4 279.2 L376.5 279.8 L376.6 280.4 L376.6 281.0 L376.7 281.6 L376.8 282.2 L376.8 282.8 L376.9 283.3 L377.0 283.9 L377.1 284.5 L377.1 285.1 L377.2 285.7 L377.3 286.3 L377.3 286.9 L377.4 287.5 L377.5 288.1 L377.6 288.7 L377.6 289.3 L377.7 289.9 L377.8 290.5 L377.9 291.1 L377.9 291.7 L378.0 292.3 L378.1 292.9 L378.2 293.5 L378.3 294.1 L378.3 294.7 L378.4 295.3 L378.5 295.9 L378.6 296.5 L378.7 297.1 L378.8 297.7 L378.9 298.3 L379.0 298.9 L379.1 299.5 L379.2 300.0 L379.3 300.6 L379.4 301.2 L379.5 301.8 L379.6 302.4 L379.7 303.0 L379.8 303.6 L379.9 304.2 L380.0 304.8 L380.2 305.4 L380.3 306.0 L380.4 306.6 L380.5 307.1 L380.7 307.7 L380.8 308.3 L380.9 308.9 L381.1 309.5 L381.2 310.1 L381.3 310.7 L381.5 311.2 L381.6 311.8 L381.8 312.4 L382.0 313.0 L382.1 313.6 L382.3 314.2 L382.5 314.7 L382.6 315.3 L382.8 315.9 L383.0 316.4 L383.2 317.0 L383.4 317.6 L383.6 318.1 L383.8 318.7 L384.0 319.3 L384.3 319.8 L384.5 320.4 L384.7 321.0 L384.9 321.5 L385.2 322.1 L385.4 322.6 L385.7 323.2 L385.9 323.7 L386.2 324.3 L386.4 324.8 L386.7 325.3 L387.0 325.9 L387.3 326.4 L387.5 326.9 L387.8 327.5 L388.1 328.0 L388.4 328.5 L388.7 329.0 L389.1 329.6 L389.4 330.1 L389.7 330.6 L390.0 331.1 L390.4 331.6 L390.7 332.0 L391.1 332.5 L391.5 333.0 L391.8 333.5 L392.2 333.9 L392.6 334.4 L393.0 334.9 L393.4 335.3 L393.8 335.8 L394.2 336.2 L394.7 336.6 L395.1 337.1 L395.5 337.5 L396.0 337.9 L396.4 338.3 L396.8 338.7 L397.3 339.1 L397.8 339.5 L398.2 339.8 L398.7 340.2 L399.2 340.6 L399.7 341.0 L400.1 341.3 L400.6 341.7 L401.1 342.0 L401.6 342.4 L402.1 342.7 L402.6 343.0 L403.2 343.3 L403.7 343.6 L404.2 343.9 L404.7 344.2 L405.2 344.5 L405.8 344.8 L406.3 345.0 L406.8 345.3 L407.4 345.6 L407.9 345.8 L408.5 346.1 L409.0 346.4 L409.6 346.6 L410.1 346.8 L410.7 347.1 L411.3 347.3 L411.8 347.5 L412.4 347.7 L412.9 348.0 L413.5 348.2 L414.1 348.4 L414.6 348.6 L415.2 348.8 L415.8 349.0 L416.3 349.2 L416.9 349.4 L417.5 349.6 L418.0 349.8 L418.6 349.9 L419.2 350.1 L419.8 350.3 L420.3 350.5 L420.9 350.7 L421.5 350.8 L422.1 351.0 L422.7 351.1 L423.2 351.3 L423.8 351.5 L424.4 351.6 L425.0 351.8 L425.6 351.9 L426.2 352.0 L426.7 352.2 L427.3 352.3 L427.9 352.5 L428.5 352.6 L429.1 352.7 L429.7 352.9 L430.3 353.0 L430.8 353.1 L431.4 353.3 L432.0 353.4 L432.6 353.5 L433.2 353.6 L433.8 353.8 L434.4 353.9 L435.0 354.0 L435.6 354.1 L436.1 354.3 L436.7 354.4 L437.3 354.5 L437.9 354.6 L438.5 354.7 L439.1 354.8 L439.7 354.9 L440.3 355.1 L440.9 355.2 L441.5 355.3 L442.1 355.4 L442.6 355.5 L443.2 355.6 L443.8 355.7 L444.4 355.9 L445.0 356.0 L445.6 356.1 L446.2 356.2 L446.8 356.3 L447.4 356.4 L448.0 356.5 L448.6 356.7 L449.1 356.8 L449.7 356.9 L450.3 357.0 L450.9 357.1 L451.5 357.2 L452.1 357.4 L452.7 357.5 L453.3 357.6 L453.9 357.7 L454.5 357.9 L455.0 358.0 L455.6 358.1 L456.2 358.2 L456.8 358.4 L457.4 358.5 L458.0 358.7 L458.6 358.8 L459.1 359.0 L459.7 359.1 L460.3 359.3 L460.9 359.4 L461.5 359.6 L462.0 359.8 L462.6 360.0 L463.2 360.2 L463.8 360.4 L464.3 360.6 L464.9 360.8 L465.4 361.0 L466.0 361.2 L466.5 361.4 L467.1 361.7 L467.6 362.0 L468.2 362.2 L468.7 362.5 L469.3 362.8 L469.8 363.0 L470.3 363.3 L470.9 363.6 L471.4 363.9 L472.0 364.1 L472.5 364.4 L473.1 364.6 L473.6 364.7 L474.2 364.9 L474.8 365.1 L475.4 365.2 L476.0 365.3 L476.6 365.4 L477.2 365.5 L477.8 365.6 L478.4 365.7 L479.0 365.7 L479.6 365.8 L480.2 365.8 L480.8 365.8 L481.4 365.7 L482.0 365.7 L482.6 365.6 L483.2 365.5 L483.8 365.4 L484.3 365.3 L484.9 365.2 L485.5 365.0 L486.1 364.8 L486.7 364.7 L487.2 364.5 L487.8 364.3 L488.4 364.2 L489.0 364.0 L489.6 363.8 L490.1 363.6 L490.7 363.5 L491.3 363.3 L491.9 363.1 L492.4 362.9 L493.0 362.8 L493.6 362.6 L494.2 362.4 L494.8 362.3 L495.3 362.1 L495.9 362.0 L496.5 361.8 L497.1 361.6 L497.7 361.5 L498.3 361.4 L498.8 361.3 L499.4 361.2 L500.0 361.1 L500.6 361.0 L501.2 360.9 L501.8 360.8 L502.4 360.7 L503.0 360.6 L503.6 360.6 L504.2 360.5 L504.8 360.4 L505.4 360.4 L506.0 360.3 L506.6 360.2 L507.2 360.2 L507.8 360.1 L508.4 360.0 L509.0 360.0 L509.6 359.9 L510.2 359.9 L510.8 359.8 L511.4 359.8 L512.0 359.7 L512.6 359.7 L513.2 359.7 L513.8 359.6 L514.4 359.6 L515.0 359.5 L515.6 359.5 L516.2 359.5 L516.8 359.4 L517.4 359.4 L518.0 359.4 L518.6 359.3 L519.2 359.3 L519.8 359.3 L520.4 359.2 L521.0 359.2 L521.6 359.2 L522.2 359.2 L522.8 359.1 L523.4 359.1 L524.0 359.1 L524.6 359.1 L525.2 359.1 L525.8 359.1 L526.4 359.0 L527.0 359.0 L527.6 359.0 L528.2 359.0 L528.8 359.0 L529.4 359.0 L530.0 359.0 L530.6 359.0 L531.2 359.0 L531.8 358.9 L532.4 358.9 L533.0 358.9 L533.6 358.9 L534.2 358.9 L534.8 358.9 L535.4 358.9 L536.0 358.9 L536.6 358.9 L537.2 358.9 L537.9 358.9 L538.5 358.9 L539.1 358.9 L539.7 358.8 L540.3 358.8 L540.9 358.8 L541.5 358.8 L542.1 358.8 L542.7 358.8 L543.3 358.8 L543.9 358.8 L544.5 358.8 L545.1 358.8 L545.7 358.8 L546.3 358.8 L546.9 358.8 L547.5 358.8 L548.1 358.8 L548.7 358.7 L549.3 358.7 L549.9 358.7 L550.5 358.7 L551.1 358.7 L551.7 358.7 L552.3 358.7 L552.9 358.7 L553.5 358.7 L554.1 358.7 L554.7 358.7 L555.3 358.7 L555.9 358.7 L556.5 358.7 L557.1 358.7 L557.7 358.7 L558.3 358.6 L558.9 358.6 L559.5 358.6 L560.1 358.6 L560.7 358.6 L561.3 358.6 L561.9 358.6 L562.5 358.6 L563.1 358.6 L563.7 358.6 L564.3 358.6 L564.9 358.6 L565.5 358.6 L566.1 358.6 L566.7 358.6 L567.3 358.6 L567.9 358.6 L568.5 358.6 L569.1 358.6 L569.7 358.6 L570.3 358.6 L570.9 358.6 L571.6 358.5 L572.2 358.5 L572.8 358.5 L573.4 358.5 L574.0 358.5 L574.6 358.5 L575.2 358.5 L575.8 358.5 L576.4 358.5 L577.0 358.5 L577.6 358.5 L578.2 358.5 L578.8 358.5 L579.4 358.5 L580.0 358.5 L580.6 358.5 L581.2 358.5 L581.8 358.5 L582.4 358.5 L583.0 358.5 L583.6 358.5 L584.2 358.5 L584.8 358.5 L585.4 358.5 L586.0 358.5 L586.6 358.5 L587.2 358.5 L587.8 358.5" stroke="#5e81b5"/>
<path d="M373.6 232.3 L373.6 232.9 L373.6 233.5 L373.6 234.1 L373.6 234.7 L373.6 235.3 L373.6 235.9 L373.6 236.5 L373.6 237.1 L373.6 237.7 L373.6 238.3 L373.7 238.9 L373.7 239.5 L373.7 240.1 L373.7 240.7 L373.7 241.3 L373.7 241.9 L373.7 242.5 L373.7 243.1 L373.8 243.7 L373.8 244.3 L373.8 245.0 L373.8 245.6 L373.8 246.2 L373.8 246.8 L373.9 247.4 L373.9 248.0 L373.9 248.6 L373.9 249.2 L373.9 249.8 L374.0 250.4 L374.0 251.0 L374.0 251.6 L374.0 252.2 L374.1 252.8 L374.1 253.4 L374.1 254.0 L374.1 254.6 L374.2 255.2 L374.2 255.8 L374.2 256.4 L374.2 257.0 L374.3 257.6 L374.3 258.2 L374.3 258.8 L374.3 259.4 L374.4 260.0 L374.4 260.6 L374.4 261.2 L374.5 261.8 L374.5 262.4 L374.5 263.0 L374.6 263.6 L374.6 264.2 L374.6 264.8 L374.6 265.4 L374.7 266.0 L374.7 266.6 L374.7 267.2 L374.8 267.8 L374.8 268.4 L374.8 269.0 L374.9 269.6 L374.9 270.2 L374.9 270.8 L375.0 271.4 L375.0 272.0 L375.1 272.6 L375.1 273.2 L375.2 273.8 L375.2 274.4 L375.3 275.0 L375.4 275.6 L375.4 276.2 L375.5 276.8 L375.5 277.4 L375.6 278.0 L375.7 278.6 L375.7 279.2 L375.8 279.8 L375.9 280.4 L376.0 281.0 L376.0 281.6 L376.1 282.2 L376.2 282.8 L376.2 283.4 L376.3 284.0 L376.3 284.5 L376.4 285.1 L376.5 285.7 L376.6 286.3 L376.6 286.9 L376.7 287.5 L376.8 288.1 L376.8 288.7 L376.9 289.3 L377.0 289.9 L377.1 290.5 L377.1 291.1 L377.2 291.7 L377.3 292.3 L377.4 292.9 L377.4 293.5 L377.5 294.1 L377.6 294.7 L377.7 295.3 L377.7 295.9 L377.8 296.5 L377.9 297.1 L378.0 297.7 L378.0 298.3 L378.1 298.9 L378.2 299.5 L378.3 300.1 L378.3 300.7 L378.4 301.3 L378.5 301.9 L378.5 302.5 L378.6 303.1 L378.7 303.7 L378.8 304.3 L378.9 304.9 L379.0 305.5 L379.1 306.0 L379.2 306.6 L379.3 307.2 L379.4 307.8 L379.5 308.4 L379.6 309.0 L379.7 309.6 L379.9 310.2 L380.0 310.8 L380.1 311.3 L380.3 311.9 L380.4 312.5 L380.6 313.1 L380.8 313.7 L380.9 314.3 L381.1 314.8 L381.3 315.4 L381.5 316.0 L381.6 316.5 L381.8 317.1 L382.0 317.7 L382.2 318.2 L382.4 318.8 L382.7 319.4 L382.9 319.9 L383.1 320.5 L383.4 321.1 L383.6 321.6 L383.8 322.2 L384.1 322.7 L384.3 323.3 L384.6 323.8 L384.8 324.4 L385.1 324.9 L385.3 325.4 L385.6 326.0 L385.9 326.5 L386.2 327.1 L386.4 327.6 L386.7 328.1 L387.0 328.7 L387.3 329.2 L387.6 329.7 L387.9 330.2 L388.2 330.7 L388.5 331.3 L388.9 331.8 L389.2 332.3 L389.5 332.7 L389.9 333.2 L390.2 333.7 L390.6 334.2 L391.0 334.7 L391.4 335.1 L391.8 335.6 L392.2 336.0 L392.6 336.5 L393.0 336.9 L393.4 337.4 L393.8 337.8 L394.2 338.2 L394.7 338.7 L395.1 339.1 L395.5 339.5 L396.0 339.9 L396.4 340.3 L396.9 340.7 L397.4 341.1 L397.8 341.4 L398.3 341.8 L398.8 342.2 L399.3 342.6 L399.8 342.9 L400.2 343.3 L400.7 343.6 L401.2 343.9 L401.7 344.3 L402.2 344.6 L402.8 344.9 L403.3 345.2 L403.8 345.5 L404.3 345.8 L404.8 346.1 L405.4 346.4 L405.9 346.7 L406.5 346.9 L407.0 347.2 L407.5 347.5 L408.1 347.7 L408.6 348.0 L409.2 348.2 L409.7 348.5 L410.3 348.7 L410.8 348.9 L411.4 349.1 L412.0 349.4 L412.5 349.6 L413.1 349.8 L413.6 350.0 L414.2 350.2 L414.8 350.4 L415.4 350.6 L415.9 350.8 L416.5 350.9 L417.1 351.1 L417.7 351.3 L418.2 351.5 L418.8 351.6 L419.4 351.8 L420.0 352.0 L420.6 352.1 L421.1 352.3 L421.7 352.4 L422.3 352.6 L422.9 352.7 L423.5 352.9 L424.0 353.0 L424.6 353.1 L425.2 353.3 L425.8 353.4 L426.4 353.5 L427.0 353.7 L427.6 353.8 L428.2 353.9 L428.8 354.0 L429.3 354.2 L429.9 354.3 L430.5 354.4 L431.1 354.6 L431.7 354.7 L432.3 354.8 L432.9 354.9 L433.5 355.1 L434.0 355.2 L434.6 355.3 L435.2 355.5 L435.8 355.6 L436.4 355.7 L437.0 355.8 L437.6 356.0 L438.2 356.1 L438.7 356.2 L439.3 356.4 L439.9 356.5 L440.5 356.6 L441.1 356.7 L441.7 356.9 L442.3 357.0 L442.9 357.1 L443.4 357.3 L444.0 357.4 L444.6 357.5 L445.2 357.7 L445.8 357.8 L446.4 357.9 L447.0 358.1 L447.6 358.2 L448.1 358.3 L448.7 358.5 L449.3 358.6 L449.9 358.8 L450.5 358.9 L451.1 359.1 L451.7 359.2 L452.2 359.4 L452.8 359.5 L453.4 359.7 L454.0 359.8 L454.6 360.0 L455.1 360.2 L455.7 360.4 L456.3 360.6 L456.8 360.8 L457.4 361.0 L457.9 361.3 L458.5 361.5 L459.0 361.8 L459.6 362.0 L460.1 362.3 L460.7 362.5 L461.2 362.8 L461.8 363.0 L462.3 363.3 L462.9 363.5 L463.4 363.8 L464.0 364.0 L464.5 364.2 L465.1 364.4 L465.7 364.5 L466.3 364.7 L466.9 364.8 L467.5 364.9 L468.1 365.0 L468.7 365.1 L469.2 365.1 L469.8 365.1 L470.5 365.0 L471.1 365.0 L471.7 364.9 L472.3 364.9 L472.9 364.8 L473.4 364.7 L474.0 364.6 L474.6 364.5 L475.2 364.3 L475.8 364.1 L476.3 363.9 L476.9 363.7 L477.5 363.5 L478.1 363.3 L478.6 363.2 L479.2 363.0 L479.8 362.8 L480.4 362.7 L481.0 362.5 L481.5 362.4 L482.1 362.2 L482.7 362.1 L483.3 361.9 L483.9 361.8 L484.5 361.7 L485.1 361.6 L485.6 361.4 L486.2 361.3 L486.8 361.2 L487.4 361.1 L488.0 361.0 L488.6 360.9 L489.2 360.8 L489.8 360.8 L490.4 360.7 L491.0 360.6 L491.6 360.5 L492.2 360.5 L492.8 360.4 L493.4 360.3 L494.0 360.2 L494.6 360.2 L495.2 360.1 L495.8 360.1 L496.4 360.0 L497.0 360.0 L497.6 359.9 L498.2 359.9 L498.8 359.8 L499.4 359.8 L500.0 359.7 L500.6 359.7 L501.2 359.6 L501.8 359.6 L502.4 359.6 L503.0 359.5 L503.6 359.5 L504.2 359.5 L504.8 359.4 L505.4 359.4 L506.0 359.4 L506.6 359.3 L507.2 359.3 L507.8 359.3 L508.4 359.3 L509.0 359.3 L509.6 359.2 L510.2 359.2 L510.8 359.2 L511.4 359.2 L512.0 359.2 L512.6 359.2 L513.2 359.2 L513.8 359.1 L514.4 359.1 L515.0 359.1 L515.6 359.1 L516.2 359.1 L516.8 359.1 L517.4 359.1 L518.0 359.1 L518.6 359.0 L519.2 359.0 L519.8 359.0 L520.4 359.0 L521.0 359.0 L521.6 359.0 L522.2 359.0 L522.8 359.0 L523.4 359.0 L524.0 359.0 L524.6 358.9 L525.2 358.9 L525.8 358.9 L526.4 358.9 L527.0 358.9 L527.6 358.9 L528.2 358.9 L528.8 358.9 L529.4 358.9 L530.0 358.9 L530.6 358.8 L531.2 358.8 L531.8 358.8 L532.4 358.8 L533.0 358.8 L533.7 358.8 L534.3 358.8 L534.9 358.8 L535.5 358.8 L536.1 358.8 L536.7 358.8 L537.3 358.8 L537.9 358.8 L538.5 358.8 L539.1 358.8 L539.7 358.8 L540.3 358.8 L540.9 358.7 L541.5 358.7 L542.1 358.7 L542.7 358.7 L543.3 358.7 L543.9 358.7 L544.5 358.7 L545.1 358.7 L545.7 358.7 L546.3 358.7 L546.9 358.7 L547.5 358.7 L548.1 358.7 L548.7 358.7 L549.3 358.7 L549.9 358.7 L550.5 358.7 L551.1 358.7 L551.7 358.7 L552.3 358.7 L552.9 358.7 L553.5 358.6 L554.1 358.6 L554.7 358.6 L555.3 358.6 L555.9 358.6 L556.5 358.6 L557.1 358.6 L557.7 358.6 L558.3 358.6 L558.9 358.6 L559.5 358.6 L560.1 358.6 L560.7 358.6 L561.3 358.6 L561.9 358.6 L562.5 358.6 L563.1 358.6 L563.7 358.6 L564.3 358.6 L564.9 358.6 L565.5 358.6 L566.1 358.6 L566.7 358.6 L567.3 358.6 L567.9 358.6 L568.5 358.6 L569.1 358.5 L569.7 358.5 L570.4 358.5 L571.0 358.5 L571.6 358.5 L572.2 358.5 L572.8 358.5 L573.4 358.5 L574.0 358.5 L574.6 358.5 L575.2 358.5 L575.8 358.5 L576.4 358.5 L577.0 358.5 L577.6 358.5 L578.2 358.5 L578.8 358.5 L579.4 358.5 L580.0 358.5 L580.6 358.5 L581.2 358.5 L581.8 358.5 L582.4 358.5 L583.0 358.5 L583.6 358.5 L584.2 358.5 L584.8 358.5 L585.4 358.5 L586.0 358.5 L586.6 358.5 L587.2 358.5 L587.8 358.5" stroke="#e19c24"/>
<path d="M371.6 232.3 L371.6 232.9 L371.6 233.5 L371.6 234.1 L371.6 234.7 L371.6 235.3 L371.6 235.9 L371.6 236.5 L371.6 237.1 L371.6 237.7 L371.6 238.3 L371.6 238.9 L371.6 239.5 L371.7 240.1 L371.7 240.7 L371.7 241.3 L371.7 241.9 L371.7 242.5 L371.7 243.1 L371.7 243.7 L371.7 244.3 L371.7 244.9 L371.8 245.5 L371.8 246.1 L371.8 246.7 L371.8 247.4 L371.8 248.0 L371.8 248.6 L371.8 249.2 L371.9 249.8 L371.9 250.4 L371.9 251.0 L371.9 251.6 L371.9 252.2 L371.9 252.8 L372.0 253.4 L372.0 254.0 L372.0 254.6 L372.0 255.2 L372.0 255.8 L372.1 256.4 L372.1 257.0 L372.1 257.6 L372.1 258.2 L372.2 258.8 L372.2 259.4 L372.2 260.0 L372.2 260.6 L372.2 261.2 L372.3 261.8 L372.3 262.4 L372.3 263.0 L372.3 263.6 L372.4 264.2 L372.4 264.8 L372.4 265.4 L372.4 266.0 L372.5 266.6 L372.5 267.2 L372.5 267.8 L372.5 268.4 L372.6 269.0 L372.6 269.6 L372.6 270.2 L372.6 270.8 L372.7 271.4 L372.7 272.0 L372.7 272.6 L372.8 273.2 L372.8 273.8 L372.9 274.4 L372.9 275.0 L373.0 275.6 L373.0 276.2 L373.1 276.8 L373.1 277.4 L373.2 278.0 L373.2 278.6 L373.3 279.2 L373.3 279.8 L373.4 280.4 L373.4 281.0 L373.5 281.6 L373.5 282.2 L373.6 282.8 L373.6 283.4 L373.7 284.0 L373.7 284.6 L373.7 285.2 L373.8 285.8 L373.8 286.4 L373.9 287.0 L373.9 287.6 L373.9 288.2 L374.0 288.8 L374.0 289.4 L374.0 290.0 L374.1 290.6 L374.1 291.2 L374.2 291.8 L374.2 292.4 L374.2 293.0 L374.3 293.6 L374.3 294.2 L374.4 294.8 L374.4 295.4 L374.5 296.0 L374.5 296.6 L374.6 297.2 L374.6 297.8 L374.7 298.4 L374.7 299.0 L374.8 299.6 L374.8 300.2 L374.9 300.8 L374.9 301.4 L375.0 302.0 L375.0 302.6 L375.1 303.2 L375.1 303.8 L375.2 304.4 L375.3 305.0 L375.3 305.6 L375.4 306.2 L375.5 306.8 L375.5 307.4 L375.6 308.0 L375.7 308.6 L375.7 309.2 L375.8 309.8 L375.9 310.4 L376.0 311.0 L376.0 311.6 L376.1 312.2 L376.2 312.8 L376.3 313.3 L376.4 313.9 L376.5 314.5 L376.6 315.1 L376.7 315.7 L376.8 316.3 L376.9 316.9 L377.0 317.5 L377.1 318.1 L377.2 318.7 L377.4 319.3 L377.5 319.8 L377.6 320.4 L377.8 321.0 L377.9 321.6 L378.1 322.2 L378.3 322.8 L378.4 323.3 L378.6 323.9 L378.8 324.5 L379.0 325.1 L379.1 325.7 L379.3 326.2 L379.5 326.8 L379.7 327.4 L379.9 327.9 L380.1 328.5 L380.3 329.1 L380.5 329.6 L380.7 330.2 L380.9 330.8 L381.1 331.3 L381.4 331.9 L381.6 332.5 L381.8 333.0 L382.1 333.6 L382.3 334.1 L382.6 334.6 L382.9 335.2 L383.2 335.7 L383.4 336.2 L383.7 336.7 L384.1 337.2 L384.4 337.8 L384.7 338.3 L385.1 338.8 L385.4 339.3 L385.8 339.7 L386.2 340.2 L386.5 340.7 L386.9 341.1 L387.3 341.6 L387.7 342.0 L388.1 342.5 L388.5 342.9 L389.0 343.3 L389.4 343.8 L389.9 344.2 L390.3 344.6 L390.8 345.0 L391.2 345.3 L391.7 345.7 L392.2 346.1 L392.7 346.4 L393.2 346.8 L393.7 347.1 L394.2 347.4 L394.7 347.7 L395.2 348.0 L395.8 348.3 L396.3 348.6 L396.9 348.8 L397.4 349.1 L397.9 349.4 L398.5 349.6 L399.0 349.9 L399.6 350.1 L400.1 350.4 L400.7 350.6 L401.2 350.9 L401.8 351.1 L402.3 351.4 L402.9 351.6 L403.4 351.8 L404.0 352.1 L404.5 352.3 L405.1 352.5 L405.6 352.8 L406.2 353.0 L406.8 353.2 L407.3 353.4 L407.9 353.6 L408.4 353.8 L409.0 354.1 L409.6 354.3 L410.1 354.5 L410.7 354.7 L411.3 354.9 L411.8 355.1 L412.4 355.4 L412.9 355.6 L413.5 355.8 L414.1 356.0 L414.6 356.2 L415.2 356.5 L415.7 356.7 L416.3 356.9 L416.8 357.2 L417.4 357.4 L417.9 357.7 L418.5 358.0 L419.0 358.2 L419.5 358.5 L420.1 358.8 L420.6 359.1 L421.1 359.4 L421.6 359.7 L422.2 359.9 L422.7 360.2 L423.3 360.5 L423.8 360.8 L424.3 361.0 L424.9 361.3 L425.4 361.6 L425.9 361.9 L426.5 362.1 L427.0 362.4 L427.6 362.6 L428.1 362.8 L428.7 363.1 L429.3 363.3 L429.8 363.5 L430.4 363.7 L431.0 363.8 L431.6 364.0 L432.1 364.1 L432.7 364.2 L433.3 364.3 L433.9 364.3 L434.5 364.3 L435.1 364.2 L435.7 364.1 L436.3 364.0 L436.9 363.8 L437.5 363.7 L438.1 363.5 L438.6 363.3 L439.2 363.2 L439.8 362.9 L440.3 362.7 L440.9 362.5 L441.5 362.3 L442.0 362.1 L442.6 361.9 L443.2 361.7 L443.8 361.5 L444.3 361.3 L444.9 361.1 L445.5 360.9 L446.0 360.7 L446.6 360.5 L447.2 360.4 L447.8 360.2 L448.3 360.1 L448.9 359.9 L449.5 359.8 L450.1 359.6 L450.7 359.5 L451.3 359.4 L451.9 359.3 L452.5 359.2 L453.1 359.1 L453.6 359.0 L454.2 359.0 L454.8 358.9 L455.4 358.8 L456.0 358.8 L456.6 358.7 L457.2 358.7 L457.8 358.7 L458.4 358.7 L459.1 358.7 L459.7 358.6 L460.3 358.6 L460.9 358.6 L461.5 358.6 L462.1 358.6 L462.7 358.6 L463.3 358.6 L463.9 358.5 L464.5 358.5 L465.1 358.5 L465.7 358.5 L466.3 358.5 L466.9 358.5 L467.5 358.5 L468.1 358.5 L468.7 358.5 L469.3 358.5 L469.9 358.5 L470.5 358.5 L471.1 358.5 L471.7 358.5 L472.3 358.5 L472.9 358.5 L473.5 358.5 L474.1 358.5 L474.7 358.5 L475.3 358.5 L475.9 358.4 L476.5 358.4 L477.1 358.4 L477.7 358.4 L478.3 358.4 L478.9 358.4 L479.5 358.4 L480.1 358.4 L480.7 358.4 L481.3 358.4 L481.9 358.4 L482.5 358.4 L483.1 358.4 L483.7 358.4 L484.3 358.4 L484.9 358.4 L485.5 358.4 L486.1 358.4 L486.7 358.4 L487.3 358.4 L487.9 358.4 L488.5 358.4 L489.1 358.4 L489.7 358.4 L490.3 358.4 L490.9 358.4 L491.5 358.4 L492.1 358.4 L492.7 358.4 L493.3 358.4 L493.9 358.4 L494.5 358.4 L495.1 358.4 L495.8 358.4 L496.4 358.4 L497.0 358.4 L497.6 358.4 L498.2 358.4 L498.8 358.4 L499.4 358.4 L500.0 358.4 L500.6 358.4 L501.2 358.4 L501.8 358.4 L502.4 358.4 L503.0 358.4 L503.6 358.4 L504.2 358.4 L504.8 358.4 L505.4 358.4 L506.0 358.4 L506.6 358.4 L507.2 358.4 L507.8 358.4 L508.4 358.4 L509.0 358.4 L509.6 358.4 L510.2 358.4 L510.8 358.4 L511.4 358.4 L512.0 358.4 L512.6 358.4 L513.2 358.4 L513.8 358.4 L514.4 358.4 L515.0 358.4 L515.6 358.4 L516.2 358.4 L516.8 358.4 L517.4 358.4 L518.0 358.4 L518.6 358.4 L519.2 358.4 L519.8 358.3 L520.4 358.3 L521.0 358.3 L521.6 358.3 L522.2 358.3 L522.8 358.3 L523.4 358.3 L524.0 358.3 L524.6 358.3 L525.2 358.3 L525.8 358.3 L526.4 358.3 L527.0 358.3 L527.6 358.3 L528.2 358.3 L528.8 358.3 L529.4 358.3 L530.0 358.3 L530.6 358.3 L531.2 358.3 L531.8 358.3 L532.4 358.3 L533.1 358.3 L533.7 358.3 L534.3 358.3 L534.9 358.3 L535.5 358.3 L536.1 358.3 L536.7 358.3 L537.3 358.3 L537.9 358.3 L538.5 358.3 L539.1 358.3 L539.7 358.3 L540.3 358.3 L540.9 358.3 L541.5 358.3 L542.1 358.3 L542.7 358.3 L543.3 358.3 L543.9 358.3 L544.5 358.3 L545.1 358.3 L545.7 358.3 L546.3 358.3 L546.9 358.3 L547.5 358.3 L548.1 358.3 L548.7 358.3 L549.3 358.3 L549.9 358.3 L550.5 358.3 L551.1 358.3 L551.7 358.3 L552.3 358.3 L552.9 358.3 L553.5 358.3 L554.1 358.3 L554.7 358.3 L555.3 358.3 L555.9 358.3 L556.5 358.3 L557.1 358.3 L557.7 358.3 L558.3 358.3 L558.9 358.3 L559.5 358.3 L560.1 358.3 L560.7 358.3 L561.3 358.3 L561.9 358.3 L562.5 358.3 L563.1 358.3 L563.7 358.3 L564.3 358.3 L564.9 358.3 L565.5 358.3 L566.1 358.3 L566.7 358.3 L567.3 358.3 L567.9 358.3 L568.5 358.3 L569.1 358.3 L569.8 358.3 L570.4 358.3 L571.0 358.3 L571.6 358.3 L572.2 358.3 L572.8 358.3 L573.4 358.3 L574.0 358.3 L574.6 358.3 L575.2 358.3 L575.8 358.3 L576.4 358.3 L577.0 358.3 L577.6 358.3 L578.2 358.3 L578.8 358.3 L579.4 358.3 L580.0 358.3 L580.6 358.3 L581.2 358.3 L581.8 358.3 L582.4 358.3 L583.0 358.3 L583.6 358.3 L584.2 358.3 L584.8 358.3 L585.4 358.3 L586.0 358.3 L586.6 358.3 L587.2 358.3 L587.8 358.3" stroke="#8fb032"/>
<path class="ax" d="M369.4 358.2H588.1M369.4 367.3V232.6"/>
<path class="tk" d="M398.56 358.2v-2.7M427.72 358.2v-2.7M456.88 358.2v-2.7M486.04 358.2v-2.7M515.2 358.2v-2.7M544.36 358.2v-2.7M573.52 358.2v-2.7M376.69 358.2v-1.7M383.98 358.2v-1.7M391.27 358.2v-1.7M405.85 358.2v-1.7M413.14 358.2v-1.7M420.43 358.2v-1.7M435.01 358.2v-1.7M442.3 358.2v-1.7M449.59 358.2v-1.7M464.17 358.2v-1.7M471.46 358.2v-1.7M478.75 358.2v-1.7M493.33 358.2v-1.7M500.62 358.2v-1.7M507.91 358.2v-1.7M522.49 358.2v-1.7M529.78 358.2v-1.7M537.07 358.2v-1.7M551.65 358.2v-1.7M558.94 358.2v-1.7M566.23 358.2v-1.7M580.81 358.2v-1.7M369.4 340.26h2.7M369.4 322.32h2.7M369.4 304.38h2.7M369.4 286.44h2.7M369.4 268.5h2.7M369.4 250.56h2.7M369.4 232.62h2.7M369.4 367.17h2.7M369.4 362.69h1.7M369.4 353.71h1.7M369.4 349.23h1.7M369.4 344.75h1.7M369.4 335.77h1.7M369.4 331.29h1.7M369.4 326.81h1.7M369.4 317.83h1.7M369.4 313.35h1.7M369.4 308.87h1.7M369.4 299.89h1.7M369.4 295.41h1.7M369.4 290.92h1.7M369.4 281.95h1.7M369.4 277.47h1.7M369.4 272.99h1.7M369.4 264.01h1.7M369.4 259.53h1.7M369.4 255.04h1.7M369.4 246.07h1.7M369.4 241.59h1.7M369.4 237.1h1.7"/>
</g>
<g class="cv">
<path d="M260.9 65.45h13.8" stroke="#5e81b5"/>
<text transform="translate(279.67 70.20) scale(1.25 1)" class="g" font-size="11.0">γ</text>
<text transform="translate(288.14 71.90) scale(1 1.08)" class="r" font-size="8.6">1</text>
<text transform="translate(292.26 70.80) scale(1.2 1)" class="r" font-size="12.3">=</text>
<text transform="translate(300.36 70.70) scale(1.2 1)" class="r" font-size="12.3">−</text>
<text transform="translate(308.52 70.20) scale(1 1.08)" class="r" font-size="12.5">0.02</text>
<path d="M260.9 86.15h13.8" stroke="#e19c24"/>
<text transform="translate(279.67 90.90) scale(1.25 1)" class="g" font-size="11.0">γ</text>
<text transform="translate(288.14 92.60) scale(1 1.08)" class="r" font-size="8.6">1</text>
<text transform="translate(292.26 91.50) scale(1.2 1)" class="r" font-size="12.3">=</text>
<text transform="translate(300.22 90.90) scale(1 1.08)" class="r" font-size="12.5">0</text>
<path d="M260.9 106.85h13.8" stroke="#8fb032"/>
<text transform="translate(279.67 111.60) scale(1.25 1)" class="g" font-size="11.0">γ</text>
<text transform="translate(288.14 113.30) scale(1 1.08)" class="r" font-size="8.6">1</text>
<text transform="translate(292.26 112.20) scale(1.2 1)" class="r" font-size="12.3">=</text>
<text transform="translate(300.22 111.60) scale(1 1.08)" class="r" font-size="12.5">0.02</text>
<path d="M616.0 72.3h13.8" stroke="#5e81b5"/>
<text transform="translate(635.02 77.05) scale(1.25 1)" class="g" font-size="11.0">γ</text>
<text transform="translate(643.49 78.75) scale(1 1.08)" class="r" font-size="8.6">1</text>
<text transform="translate(647.61 77.65) scale(1.2 1)" class="r" font-size="12.3">=</text>
<text transform="translate(655.71 77.55) scale(1.2 1)" class="r" font-size="12.3">−</text>
<text transform="translate(663.87 77.05) scale(1 1.08)" class="r" font-size="12.5">0.02</text>
<path d="M616.0 93.0h13.8" stroke="#e19c24"/>
<text transform="translate(635.02 97.75) scale(1.25 1)" class="g" font-size="11.0">γ</text>
<text transform="translate(643.49 99.45) scale(1 1.08)" class="r" font-size="8.6">1</text>
<text transform="translate(647.61 98.35) scale(1.2 1)" class="r" font-size="12.3">=</text>
<text transform="translate(655.57 97.75) scale(1 1.08)" class="r" font-size="12.5">0</text>
<path d="M616.0 113.7h13.8" stroke="#8fb032"/>
<text transform="translate(635.02 118.45) scale(1.25 1)" class="g" font-size="11.0">γ</text>
<text transform="translate(643.49 120.15) scale(1 1.08)" class="r" font-size="8.6">1</text>
<text transform="translate(647.61 119.05) scale(1.2 1)" class="r" font-size="12.3">=</text>
<text transform="translate(655.57 118.45) scale(1 1.08)" class="r" font-size="12.5">0.02</text>
<path d="M260.9 260.45h13.8" stroke="#5e81b5"/>
<text transform="translate(279.67 265.20) scale(1.25 1)" class="g" font-size="11.0">γ</text>
<text transform="translate(288.14 266.90) scale(1 1.08)" class="r" font-size="8.6">1</text>
<text transform="translate(292.26 265.80) scale(1.2 1)" class="r" font-size="12.3">=</text>
<text transform="translate(300.36 265.70) scale(1.2 1)" class="r" font-size="12.3">−</text>
<text transform="translate(308.52 265.20) scale(1 1.08)" class="r" font-size="12.5">0.02</text>
<path d="M260.9 281.15h13.8" stroke="#e19c24"/>
<text transform="translate(279.67 285.90) scale(1.25 1)" class="g" font-size="11.0">γ</text>
<text transform="translate(288.14 287.60) scale(1 1.08)" class="r" font-size="8.6">1</text>
<text transform="translate(292.26 286.50) scale(1.2 1)" class="r" font-size="12.3">=</text>
<text transform="translate(300.22 285.90) scale(1 1.08)" class="r" font-size="12.5">0</text>
<path d="M260.9 301.85h13.8" stroke="#8fb032"/>
<text transform="translate(279.67 306.60) scale(1.25 1)" class="g" font-size="11.0">γ</text>
<text transform="translate(288.14 308.30) scale(1 1.08)" class="r" font-size="8.6">1</text>
<text transform="translate(292.26 307.20) scale(1.2 1)" class="r" font-size="12.3">=</text>
<text transform="translate(300.22 306.60) scale(1 1.08)" class="r" font-size="12.5">0.02</text>
<path d="M616.0 264.4h13.8" stroke="#5e81b5"/>
<text transform="translate(635.27 269.15) scale(1.25 1)" class="g" font-size="11.0">γ</text>
<text transform="translate(643.74 270.85) scale(1 1.08)" class="r" font-size="8.6">1</text>
<text transform="translate(647.86 269.75) scale(1.2 1)" class="r" font-size="12.3">=</text>
<text transform="translate(655.96 269.65) scale(1.2 1)" class="r" font-size="12.3">−</text>
<text transform="translate(664.12 269.15) scale(1 1.08)" class="r" font-size="12.5">0.02</text>
<path d="M616.0 285.1h13.8" stroke="#e19c24"/>
<text transform="translate(635.27 289.85) scale(1.25 1)" class="g" font-size="11.0">γ</text>
<text transform="translate(643.74 291.55) scale(1 1.08)" class="r" font-size="8.6">1</text>
<text transform="translate(647.86 290.45) scale(1.2 1)" class="r" font-size="12.3">=</text>
<text transform="translate(655.82 289.85) scale(1 1.08)" class="r" font-size="12.5">0</text>
<path d="M616.0 305.8h13.8" stroke="#8fb032"/>
<text transform="translate(635.27 310.55) scale(1.25 1)" class="g" font-size="11.0">γ</text>
<text transform="translate(643.74 312.25) scale(1 1.08)" class="r" font-size="8.6">1</text>
<text transform="translate(647.86 311.15) scale(1.2 1)" class="r" font-size="12.3">=</text>
<text transform="translate(655.82 310.55) scale(1 1.08)" class="r" font-size="12.5">0.02</text>
</g>
<text transform="translate(88.52 9.05) scale(1 1)" class="g" font-size="11.4">α</text>
<text transform="translate(95.94 10.75) scale(1 1.08)" class="r" font-size="8.6">1</text>
<text transform="translate(100.46 9.65) scale(1.2 1)" class="r" font-size="12.3">=</text>
<text transform="translate(108.66 9.55) scale(1.2 1)" class="r" font-size="12.3">−</text>
<text transform="translate(116.67 9.05) scale(1 1.08)" class="r" font-size="12.5">0.2</text>
<text transform="translate(132.47 9.05) scale(1 1.08)" class="r" font-size="12.5">,</text>
<text transform="translate(134.62 9.05) scale(1.25 1)" class="g" font-size="11.0">γ</text>
<text transform="translate(142.31 9.65) scale(1.2 1)" class="r" font-size="12.3">=</text>
<text transform="translate(150.27 9.05) scale(1 1.08)" class="r" font-size="12.5">0</text>
<text transform="translate(5.14 23.65) scale(1 1.03)" class="r" font-size="12.6">Re</text>
<text transform="translate(20.77 23.75) scale(1 1)" class="g" font-size="12.0">σ</text>
<text transform="translate(15.5 144.77) scale(1 1.08)" text-anchor="end" class="r tl">0.2</text>
<text transform="translate(15.5 121.99) scale(1 1.08)" text-anchor="end" class="r tl">0.4</text>
<text transform="translate(15.5 99.21) scale(1 1.08)" text-anchor="end" class="r tl">0.6</text>
<text transform="translate(15.5 76.43) scale(1 1.08)" text-anchor="end" class="r tl">0.8</text>
<text transform="translate(15.5 53.65) scale(1 1.08)" text-anchor="end" class="r tl">1.0</text>
<text transform="translate(59.25 176.9) scale(1 1.08)" text-anchor="middle" class="r tl">5</text>
<text transform="translate(101.05 176.9) scale(1 1.08)" text-anchor="middle" class="r tl">10</text>
<text transform="translate(142.85 176.9) scale(1 1.08)" text-anchor="middle" class="r tl">15</text>
<text transform="translate(184.65 176.9) scale(1 1.08)" text-anchor="middle" class="r tl">20</text>
<text transform="translate(226.45 176.9) scale(1 1.08)" text-anchor="middle" class="r tl">25</text>
<text transform="translate(239.79 160.50) scale(1.2 1)" class="g gb" font-size="8.0">ω</text>
<path d="M239.2 161.1h9.2" style="stroke:#111;stroke-width:.7"/>
<text transform="translate(239.66 170.80) scale(1 1)" class="ti" font-size="9.8">T</text>
<text transform="translate(245.02 172.00) scale(1 1)" class="ti" font-size="5.9">c</text>
<text transform="translate(444.52 21.60) scale(1 1)" class="g" font-size="11.4">α</text>
<text transform="translate(451.94 23.30) scale(1 1.08)" class="r" font-size="8.6">1</text>
<text transform="translate(456.46 22.20) scale(1.2 1)" class="r" font-size="12.3">=</text>
<text transform="translate(464.66 22.10) scale(1.2 1)" class="r" font-size="12.3">−</text>
<text transform="translate(472.67 21.60) scale(1 1.08)" class="r" font-size="12.5">0.2</text>
<text transform="translate(488.47 21.60) scale(1 1.08)" class="r" font-size="12.5">,</text>
<text transform="translate(490.62 21.60) scale(1.25 1)" class="g" font-size="11.0">γ</text>
<text transform="translate(498.31 22.20) scale(1.2 1)" class="r" font-size="12.3">=</text>
<text transform="translate(506.27 21.60) scale(1 1.08)" class="r" font-size="12.5">0</text>
<text transform="translate(357.04 37.20) scale(1 1.03)" class="r" font-size="12.6">Im</text>
<text transform="translate(373.07 37.30) scale(1 1)" class="g" font-size="12.0">σ</text>
<text transform="translate(366.9 167.5) scale(1 1.08)" text-anchor="end" class="r tl">0</text>
<text transform="translate(366.9 129.95) scale(1 1.08)" text-anchor="end" class="r tl">5</text>
<text transform="translate(366.9 92.4) scale(1 1.08)" text-anchor="end" class="r tl">10</text>
<text transform="translate(366.9 54.85) scale(1 1.08)" text-anchor="end" class="r tl">15</text>
<text transform="translate(398.56 177.0) scale(1 1.08)" text-anchor="middle" class="r tl">2</text>
<text transform="translate(427.72 177.0) scale(1 1.08)" text-anchor="middle" class="r tl">4</text>
<text transform="translate(456.88 177.0) scale(1 1.08)" text-anchor="middle" class="r tl">6</text>
<text transform="translate(486.04 177.0) scale(1 1.08)" text-anchor="middle" class="r tl">8</text>
<text transform="translate(515.2 177.0) scale(1 1.08)" text-anchor="middle" class="r tl">10</text>
<text transform="translate(544.36 177.0) scale(1 1.08)" text-anchor="middle" class="r tl">12</text>
<text transform="translate(573.52 177.0) scale(1 1.08)" text-anchor="middle" class="r tl">14</text>
<text transform="translate(594.99 160.80) scale(1.2 1)" class="g gb" font-size="8.0">ω</text>
<path d="M594.4 161.4h9.2" style="stroke:#111;stroke-width:.7"/>
<text transform="translate(594.86 171.10) scale(1 1)" class="ti" font-size="9.8">T</text>
<text transform="translate(600.22 172.30) scale(1 1)" class="ti" font-size="5.9">c</text>
<text transform="translate(92.62 203.70) scale(1 1)" class="g" font-size="11.4">α</text>
<text transform="translate(100.04 205.40) scale(1 1.08)" class="r" font-size="8.6">1</text>
<text transform="translate(104.56 204.30) scale(1.2 1)" class="r" font-size="12.3">=</text>
<text transform="translate(112.32 203.70) scale(1 1.08)" class="r" font-size="12.5">0.2</text>
<text transform="translate(128.12 203.70) scale(1 1.08)" class="r" font-size="12.5">,</text>
<text transform="translate(130.27 203.70) scale(1.25 1)" class="g" font-size="11.0">γ</text>
<text transform="translate(137.96 204.30) scale(1.2 1)" class="r" font-size="12.3">=</text>
<text transform="translate(145.92 203.70) scale(1 1.08)" class="r" font-size="12.5">0</text>
<text transform="translate(5.14 218.40) scale(1 1.03)" class="r" font-size="12.6">Re</text>
<text transform="translate(20.77 218.50) scale(1 1)" class="g" font-size="12.0">σ</text>
<text transform="translate(15.5 340.15) scale(1 1.08)" text-anchor="end" class="r tl">0.2</text>
<text transform="translate(15.5 317.75) scale(1 1.08)" text-anchor="end" class="r tl">0.4</text>
<text transform="translate(15.5 295.35) scale(1 1.08)" text-anchor="end" class="r tl">0.6</text>
<text transform="translate(15.5 272.95) scale(1 1.08)" text-anchor="end" class="r tl">0.8</text>
<text transform="translate(15.5 250.55) scale(1 1.08)" text-anchor="end" class="r tl">1.0</text>
<text transform="translate(66 371.8) scale(1 1.08)" text-anchor="middle" class="r tl">5</text>
<text transform="translate(114.55 371.8) scale(1 1.08)" text-anchor="middle" class="r tl">10</text>
<text transform="translate(163.1 371.8) scale(1 1.08)" text-anchor="middle" class="r tl">15</text>
<text transform="translate(211.65 371.8) scale(1 1.08)" text-anchor="middle" class="r tl">20</text>
<text transform="translate(239.79 355.80) scale(1.2 1)" class="g gb" font-size="8.0">ω</text>
<path d="M239.2 356.4h9.2" style="stroke:#111;stroke-width:.7"/>
<text transform="translate(239.66 366.10) scale(1 1)" class="ti" font-size="9.8">T</text>
<text transform="translate(245.02 367.30) scale(1 1)" class="ti" font-size="5.9">c</text>
<text transform="translate(448.92 210.20) scale(1 1)" class="g" font-size="11.4">α</text>
<text transform="translate(456.34 211.90) scale(1 1.08)" class="r" font-size="8.6">1</text>
<text transform="translate(460.86 210.80) scale(1.2 1)" class="r" font-size="12.3">=</text>
<text transform="translate(468.62 210.20) scale(1 1.08)" class="r" font-size="12.5">0.2</text>
<text transform="translate(484.42 210.20) scale(1 1.08)" class="r" font-size="12.5">,</text>
<text transform="translate(486.57 210.20) scale(1.25 1)" class="g" font-size="11.0">γ</text>
<text transform="translate(494.26 210.80) scale(1.2 1)" class="r" font-size="12.3">=</text>
<text transform="translate(502.22 210.20) scale(1 1.08)" class="r" font-size="12.5">0</text>
<text transform="translate(357.04 225.40) scale(1 1.03)" class="r" font-size="12.6">Im</text>
<text transform="translate(373.07 225.50) scale(1 1)" class="g" font-size="12.0">σ</text>
<text transform="translate(366.9 362.55) scale(1 1.08)" text-anchor="end" class="r tl">0</text>
<text transform="translate(366.9 344.61) scale(1 1.08)" text-anchor="end" class="r tl">2</text>
<text transform="translate(366.9 326.67) scale(1 1.08)" text-anchor="end" class="r tl">4</text>
<text transform="translate(366.9 308.73) scale(1 1.08)" text-anchor="end" class="r tl">6</text>
<text transform="translate(366.9 290.79) scale(1 1.08)" text-anchor="end" class="r tl">8</text>
<text transform="translate(366.9 272.85) scale(1 1.08)" text-anchor="end" class="r tl">10</text>
<text transform="translate(366.9 254.91) scale(1 1.08)" text-anchor="end" class="r tl">12</text>
<text transform="translate(366.9 236.97) scale(1 1.08)" text-anchor="end" class="r tl">14</text>
<text transform="translate(398.56 371.8) scale(1 1.08)" text-anchor="middle" class="r tl">2</text>
<text transform="translate(427.72 371.8) scale(1 1.08)" text-anchor="middle" class="r tl">4</text>
<text transform="translate(456.88 371.8) scale(1 1.08)" text-anchor="middle" class="r tl">6</text>
<text transform="translate(486.04 371.8) scale(1 1.08)" text-anchor="middle" class="r tl">8</text>
<text transform="translate(515.2 371.8) scale(1 1.08)" text-anchor="middle" class="r tl">10</text>
<text transform="translate(544.36 371.8) scale(1 1.08)" text-anchor="middle" class="r tl">12</text>
<text transform="translate(573.52 371.8) scale(1 1.08)" text-anchor="middle" class="r tl">14</text>
<text transform="translate(594.99 356.00) scale(1.2 1)" class="g gb" font-size="8.0">ω</text>
<path d="M594.4 356.6h9.2" style="stroke:#111;stroke-width:.7"/>
<text transform="translate(594.86 366.30) scale(1 1)" class="ti" font-size="9.8">T</text>
<text transform="translate(600.22 367.50) scale(1 1)" class="ti" font-size="5.9">c</text>
</svg>
</body></html>
